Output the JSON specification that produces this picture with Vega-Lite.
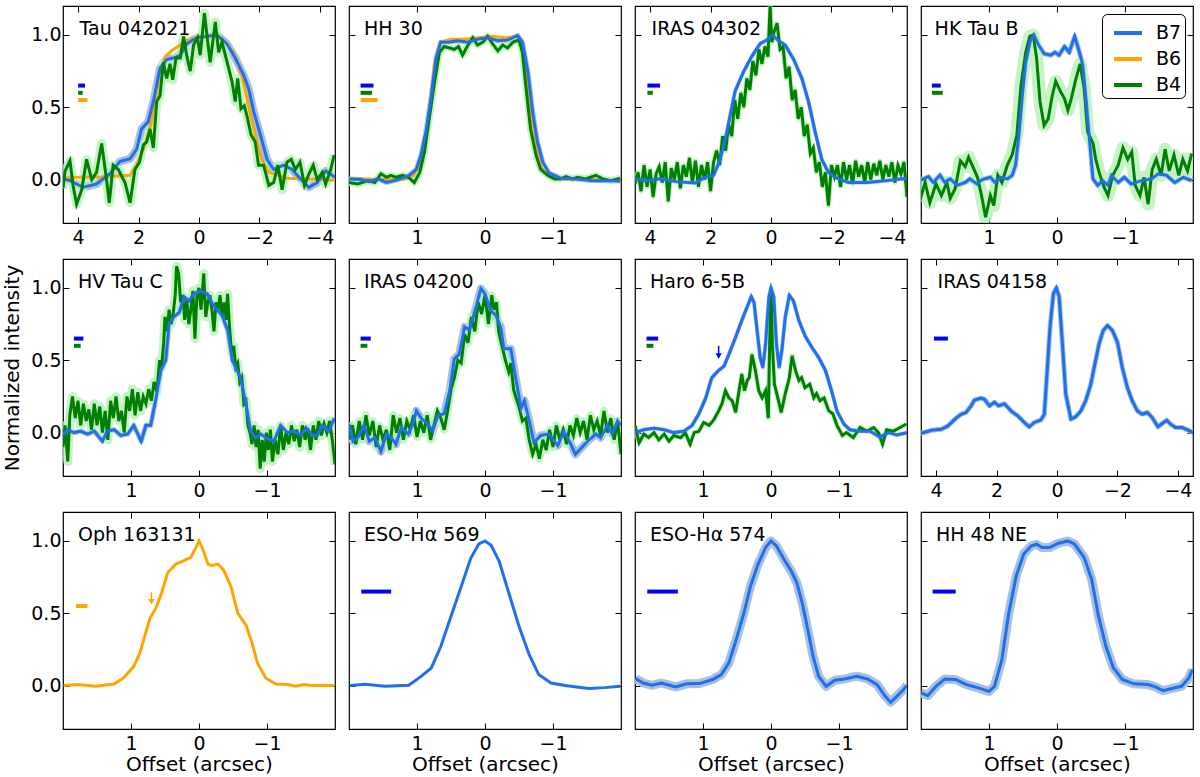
{
"$schema":"https://vega.github.io/schema/vega-lite/v6.json",
"background":"white",
"padding":{"left":2,"top":4,"right":4,"bottom":0},
"columns":4,
"bounds":"flush",
"spacing":{"row":36,"column":14},
"datasets":{
"t":[{"p":1,"n":"Tau 042021"},{"p":2,"n":"HH 30"},{"p":3,"n":"IRAS 04302"},{"p":4,"n":"HK Tau B"},{"p":5,"n":"HV Tau C"},{"p":6,"n":"IRAS 04200"},{"p":7,"n":"Haro 6-5B"},{"p":8,"n":"IRAS 04158"},{"p":9,"n":"Oph 163131"},{"p":10,"n":"ESO-Hα 569"},{"p":11,"n":"ESO-Hα 574"},{"p":12,"n":"HH 48 NE"}],
"a":[{"p":7,"b":"b7","x":0.77,"y":0.6,"y2":0.53},{"p":9,"b":"b6","x":0.7,"y":0.645,"y2":0.58}],
"m":[
{"p":1,"b":"b7","x1":4.0,"x2":3.77,"y":0.65},{"p":1,"b":"b4","x1":4.0,"x2":3.85,"y":0.6},{"p":1,"b":"b6","x1":4.0,"x2":3.69,"y":0.55},
{"p":2,"b":"b7","x1":1.83,"x2":1.64,"y":0.65},{"p":2,"b":"b4","x1":1.83,"x2":1.66,"y":0.6},{"p":2,"b":"b6","x1":1.83,"x2":1.58,"y":0.55},
{"p":3,"b":"b7","x1":4.09,"x2":3.67,"y":0.65},{"p":3,"b":"b4","x1":4.09,"x2":3.91,"y":0.6},
{"p":4,"b":"b7","x1":1.84,"x2":1.71,"y":0.65},{"p":4,"b":"b4","x1":1.84,"x2":1.68,"y":0.6},
{"p":5,"b":"b7","x1":1.84,"x2":1.7,"y":0.65},{"p":5,"b":"b4","x1":1.84,"x2":1.74,"y":0.6},
{"p":6,"b":"b7","x1":1.83,"x2":1.68,"y":0.65},{"p":6,"b":"b4","x1":1.83,"x2":1.73,"y":0.6},
{"p":7,"b":"b7","x1":1.83,"x2":1.66,"y":0.65},{"p":7,"b":"b4","x1":1.83,"x2":1.73,"y":0.6},
{"p":8,"b":"b7","x1":4.07,"x2":3.61,"y":0.65},
{"p":9,"b":"b6","x1":1.81,"x2":1.64,"y":0.55},
{"p":10,"b":"b7","x1":1.82,"x2":1.38,"y":0.65},
{"p":11,"b":"b7","x1":1.82,"x2":1.37,"y":0.65},
{"p":12,"b":"b7","x1":1.83,"x2":1.49,"y":0.65}
],
"c":[
{"p":1,"b":"B6","x":4.5,"y":0.01},{"p":1,"b":"B6","x":4.0,"y":0.016},{"p":1,"b":"B6","x":3.17,"y":0.02},{"p":1,"b":"B6","x":2.28,"y":0.03},{"p":1,"b":"B6","x":2.06,"y":0.1},{"p":1,"b":"B6","x":1.79,"y":0.24},{"p":1,"b":"B6","x":1.57,"y":0.4},{"p":1,"b":"B6","x":1.34,"y":0.68},{"p":1,"b":"B6","x":1.12,"y":0.85},{"p":1,"b":"B6","x":0.85,"y":0.9},{"p":1,"b":"B6","x":0.4,"y":0.96},{"p":1,"b":"B6","x":0,"y":0.99},{"p":1,"b":"B6","x":-0.48,"y":1.0},{"p":1,"b":"B6","x":-0.81,"y":0.965},{"p":1,"b":"B6","x":-1.14,"y":0.88},{"p":1,"b":"B6","x":-1.42,"y":0.72},{"p":1,"b":"B6","x":-1.64,"y":0.51},{"p":1,"b":"B6","x":-1.86,"y":0.31},{"p":1,"b":"B6","x":-2.08,"y":0.14},{"p":1,"b":"B6","x":-2.31,"y":0.05},{"p":1,"b":"B6","x":-2.91,"y":0.01},{"p":1,"b":"B6","x":-3.58,"y":0.005},{"p":1,"b":"B6","x":-4.5,"y":-0.007},
{"p":1,"b":"B7","x":4.5,"y":0.005},{"p":1,"b":"B7","x":4.27,"y":-0.007},{"p":1,"b":"B7","x":3.83,"y":-0.053},{"p":1,"b":"B7","x":3.39,"y":-0.03},{"p":1,"b":"B7","x":2.95,"y":0.04},{"p":1,"b":"B7","x":2.62,"y":0.125},{"p":1,"b":"B7","x":2.28,"y":0.144},{"p":1,"b":"B7","x":2.06,"y":0.21},{"p":1,"b":"B7","x":1.9,"y":0.35},{"p":1,"b":"B7","x":1.68,"y":0.4},{"p":1,"b":"B7","x":1.51,"y":0.54},{"p":1,"b":"B7","x":1.29,"y":0.77},{"p":1,"b":"B7","x":1.07,"y":0.83},{"p":1,"b":"B7","x":0.85,"y":0.84},{"p":1,"b":"B7","x":0.62,"y":0.86},{"p":1,"b":"B7","x":0.4,"y":0.94},{"p":1,"b":"B7","x":0.07,"y":0.98},{"p":1,"b":"B7","x":-0.26,"y":0.99},{"p":1,"b":"B7","x":-0.59,"y":1.0},{"p":1,"b":"B7","x":-0.92,"y":0.94},{"p":1,"b":"B7","x":-1.2,"y":0.84},{"p":1,"b":"B7","x":-1.48,"y":0.72},{"p":1,"b":"B7","x":-1.64,"y":0.63},{"p":1,"b":"B7","x":-1.81,"y":0.47},{"p":1,"b":"B7","x":-2.03,"y":0.31},{"p":1,"b":"B7","x":-2.25,"y":0.14},{"p":1,"b":"B7","x":-2.47,"y":0.07},{"p":1,"b":"B7","x":-2.8,"y":0.1},{"p":1,"b":"B7","x":-3.08,"y":0.07},{"p":1,"b":"B7","x":-3.36,"y":0.005},{"p":1,"b":"B7","x":-3.63,"y":-0.053},{"p":1,"b":"B7","x":-3.91,"y":-0.02},{"p":1,"b":"B7","x":-4.19,"y":0.06},{"p":1,"b":"B7","x":-4.5,"y":0.016},
{"p":1,"b":"B4","x":4.5,"y":-0.06},{"p":1,"b":"B4","x":4.43,"y":0.06},{"p":1,"b":"B4","x":4.27,"y":0.13},{"p":1,"b":"B4","x":4.16,"y":-0.05},{"p":1,"b":"B4","x":4.05,"y":-0.17},{"p":1,"b":"B4","x":3.88,"y":-0.07},{"p":1,"b":"B4","x":3.72,"y":0.14},{"p":1,"b":"B4","x":3.55,"y":0.0},{"p":1,"b":"B4","x":3.39,"y":0.05},{"p":1,"b":"B4","x":3.22,"y":0.25},{"p":1,"b":"B4","x":3.06,"y":0.0},{"p":1,"b":"B4","x":2.97,"y":-0.16},{"p":1,"b":"B4","x":2.84,"y":0.1},{"p":1,"b":"B4","x":2.67,"y":0.07},{"p":1,"b":"B4","x":2.45,"y":-0.02},{"p":1,"b":"B4","x":2.28,"y":-0.16},{"p":1,"b":"B4","x":2.12,"y":0.07},{"p":1,"b":"B4","x":1.97,"y":0.12},{"p":1,"b":"B4","x":1.84,"y":0.24},{"p":1,"b":"B4","x":1.73,"y":0.26},{"p":1,"b":"B4","x":1.62,"y":0.35},{"p":1,"b":"B4","x":1.51,"y":0.22},{"p":1,"b":"B4","x":1.4,"y":0.54},{"p":1,"b":"B4","x":1.29,"y":0.58},{"p":1,"b":"B4","x":1.18,"y":0.81},{"p":1,"b":"B4","x":1.07,"y":0.7},{"p":1,"b":"B4","x":0.96,"y":0.8},{"p":1,"b":"B4","x":0.87,"y":0.69},{"p":1,"b":"B4","x":0.76,"y":0.84},{"p":1,"b":"B4","x":0.62,"y":0.84},{"p":1,"b":"B4","x":0.51,"y":0.99},{"p":1,"b":"B4","x":0.4,"y":0.85},{"p":1,"b":"B4","x":0.29,"y":0.75},{"p":1,"b":"B4","x":0.18,"y":0.93},{"p":1,"b":"B4","x":0.05,"y":0.98},{"p":1,"b":"B4","x":-0.04,"y":0.86},{"p":1,"b":"B4","x":-0.18,"y":1.15},{"p":1,"b":"B4","x":-0.29,"y":0.95},{"p":1,"b":"B4","x":-0.37,"y":0.81},{"p":1,"b":"B4","x":-0.54,"y":1.09},{"p":1,"b":"B4","x":-0.65,"y":0.88},{"p":1,"b":"B4","x":-0.76,"y":0.95},{"p":1,"b":"B4","x":-0.87,"y":0.86},{"p":1,"b":"B4","x":-0.98,"y":0.77},{"p":1,"b":"B4","x":-1.09,"y":0.68},{"p":1,"b":"B4","x":-1.2,"y":0.54},{"p":1,"b":"B4","x":-1.28,"y":0.7},{"p":1,"b":"B4","x":-1.39,"y":0.49},{"p":1,"b":"B4","x":-1.5,"y":0.51},{"p":1,"b":"B4","x":-1.61,"y":0.42},{"p":1,"b":"B4","x":-1.72,"y":0.31},{"p":1,"b":"B4","x":-1.86,"y":0.26},{"p":1,"b":"B4","x":-1.97,"y":0.1},{"p":1,"b":"B4","x":-2.14,"y":0.1},{"p":1,"b":"B4","x":-2.31,"y":-0.04},{"p":1,"b":"B4","x":-2.47,"y":-0.02},{"p":1,"b":"B4","x":-2.61,"y":0.1},{"p":1,"b":"B4","x":-2.75,"y":-0.07},{"p":1,"b":"B4","x":-2.91,"y":0.12},{"p":1,"b":"B4","x":-3.05,"y":0.14},{"p":1,"b":"B4","x":-3.19,"y":0.07},{"p":1,"b":"B4","x":-3.34,"y":0.12},{"p":1,"b":"B4","x":-3.49,"y":-0.04},{"p":1,"b":"B4","x":-3.64,"y":0.04},{"p":1,"b":"B4","x":-3.78,"y":0.1},{"p":1,"b":"B4","x":-3.91,"y":0.0},{"p":1,"b":"B4","x":-4.08,"y":0.05},{"p":1,"b":"B4","x":-4.19,"y":-0.03},{"p":1,"b":"B4","x":-4.36,"y":0.07},{"p":1,"b":"B4","x":-4.47,"y":0.17},
{"p":2,"b":"B6","x":2.0,"y":0.01},{"p":2,"b":"B6","x":1.6,"y":0.0},{"p":2,"b":"B6","x":1.2,"y":0.0},{"p":2,"b":"B6","x":1.05,"y":0.03},{"p":2,"b":"B6","x":0.95,"y":0.12},{"p":2,"b":"B6","x":0.87,"y":0.3},{"p":2,"b":"B6","x":0.8,"y":0.55},{"p":2,"b":"B6","x":0.74,"y":0.8},{"p":2,"b":"B6","x":0.66,"y":0.95},{"p":2,"b":"B6","x":0.5,"y":0.97},{"p":2,"b":"B6","x":0.3,"y":0.97},{"p":2,"b":"B6","x":0.1,"y":0.98},{"p":2,"b":"B6","x":-0.1,"y":0.99},{"p":2,"b":"B6","x":-0.3,"y":0.98},{"p":2,"b":"B6","x":-0.48,"y":0.99},{"p":2,"b":"B6","x":-0.55,"y":0.93},{"p":2,"b":"B6","x":-0.61,"y":0.72},{"p":2,"b":"B6","x":-0.68,"y":0.45},{"p":2,"b":"B6","x":-0.75,"y":0.22},{"p":2,"b":"B6","x":-0.83,"y":0.08},{"p":2,"b":"B6","x":-0.95,"y":0.02},{"p":2,"b":"B6","x":-1.2,"y":0.0},{"p":2,"b":"B6","x":-1.6,"y":0.0},{"p":2,"b":"B6","x":-2.0,"y":-0.01},
{"p":2,"b":"B4","x":2.0,"y":-0.02},{"p":2,"b":"B4","x":1.87,"y":-0.03},{"p":2,"b":"B4","x":1.72,"y":-0.007},{"p":2,"b":"B4","x":1.62,"y":-0.02},{"p":2,"b":"B4","x":1.53,"y":0.04},{"p":2,"b":"B4","x":1.45,"y":0.016},{"p":2,"b":"B4","x":1.38,"y":0.03},{"p":2,"b":"B4","x":1.31,"y":0.016},{"p":2,"b":"B4","x":1.21,"y":0.03},{"p":2,"b":"B4","x":1.11,"y":0.01},{"p":2,"b":"B4","x":1.04,"y":-0.02},{"p":2,"b":"B4","x":0.96,"y":0.05},{"p":2,"b":"B4","x":0.89,"y":0.19},{"p":2,"b":"B4","x":0.82,"y":0.42},{"p":2,"b":"B4","x":0.74,"y":0.68},{"p":2,"b":"B4","x":0.67,"y":0.88},{"p":2,"b":"B4","x":0.6,"y":0.92},{"p":2,"b":"B4","x":0.52,"y":0.91},{"p":2,"b":"B4","x":0.45,"y":0.9},{"p":2,"b":"B4","x":0.39,"y":0.92},{"p":2,"b":"B4","x":0.33,"y":0.86},{"p":2,"b":"B4","x":0.25,"y":0.93},{"p":2,"b":"B4","x":0.18,"y":0.98},{"p":2,"b":"B4","x":0.11,"y":0.93},{"p":2,"b":"B4","x":0.03,"y":0.95},{"p":2,"b":"B4","x":-0.04,"y":0.99},{"p":2,"b":"B4","x":-0.11,"y":0.94},{"p":2,"b":"B4","x":-0.19,"y":0.89},{"p":2,"b":"B4","x":-0.26,"y":0.93},{"p":2,"b":"B4","x":-0.33,"y":0.91},{"p":2,"b":"B4","x":-0.41,"y":0.95},{"p":2,"b":"B4","x":-0.5,"y":0.965},{"p":2,"b":"B4","x":-0.55,"y":0.88},{"p":2,"b":"B4","x":-0.6,"y":0.65},{"p":2,"b":"B4","x":-0.67,"y":0.35},{"p":2,"b":"B4","x":-0.75,"y":0.17},{"p":2,"b":"B4","x":-0.82,"y":0.07},{"p":2,"b":"B4","x":-0.92,"y":0.03},{"p":2,"b":"B4","x":-1.02,"y":0.005},{"p":2,"b":"B4","x":-1.11,"y":0.005},{"p":2,"b":"B4","x":-1.19,"y":0.02},{"p":2,"b":"B4","x":-1.29,"y":0.005},{"p":2,"b":"B4","x":-1.36,"y":0.016},{"p":2,"b":"B4","x":-1.48,"y":0.005},{"p":2,"b":"B4","x":-1.63,"y":0.03},{"p":2,"b":"B4","x":-1.73,"y":0.005},{"p":2,"b":"B4","x":-1.85,"y":-0.007},{"p":2,"b":"B4","x":-1.99,"y":0.01},
{"p":2,"b":"B7","x":2.0,"y":0.005},{"p":2,"b":"B7","x":1.82,"y":0.0},{"p":2,"b":"B7","x":1.7,"y":-0.014},{"p":2,"b":"B7","x":1.57,"y":0.005},{"p":2,"b":"B7","x":1.45,"y":-0.02},{"p":2,"b":"B7","x":1.28,"y":0.0},{"p":2,"b":"B7","x":1.11,"y":0.03},{"p":2,"b":"B7","x":1.01,"y":0.07},{"p":2,"b":"B7","x":0.94,"y":0.17},{"p":2,"b":"B7","x":0.87,"y":0.33},{"p":2,"b":"B7","x":0.79,"y":0.58},{"p":2,"b":"B7","x":0.72,"y":0.84},{"p":2,"b":"B7","x":0.65,"y":0.95},{"p":2,"b":"B7","x":0.55,"y":0.95},{"p":2,"b":"B7","x":0.4,"y":0.96},{"p":2,"b":"B7","x":0.25,"y":0.95},{"p":2,"b":"B7","x":0.11,"y":0.97},{"p":2,"b":"B7","x":-0.04,"y":0.98},{"p":2,"b":"B7","x":-0.19,"y":0.96},{"p":2,"b":"B7","x":-0.33,"y":0.965},{"p":2,"b":"B7","x":-0.48,"y":0.995},{"p":2,"b":"B7","x":-0.55,"y":0.95},{"p":2,"b":"B7","x":-0.63,"y":0.745},{"p":2,"b":"B7","x":-0.7,"y":0.47},{"p":2,"b":"B7","x":-0.77,"y":0.26},{"p":2,"b":"B7","x":-0.85,"y":0.12},{"p":2,"b":"B7","x":-0.94,"y":0.046},{"p":2,"b":"B7","x":-1.11,"y":0.01},{"p":2,"b":"B7","x":-1.31,"y":0.005},{"p":2,"b":"B7","x":-1.55,"y":-0.007},{"p":2,"b":"B7","x":-1.99,"y":-0.01},
{"p":3,"b":"B4","x":4.5,"y":-0.03},{"p":3,"b":"B4","x":4.4,"y":0.05},{"p":3,"b":"B4","x":4.3,"y":-0.08},{"p":3,"b":"B4","x":4.2,"y":0.1},{"p":3,"b":"B4","x":4.1,"y":-0.05},{"p":3,"b":"B4","x":4.0,"y":0.07},{"p":3,"b":"B4","x":3.9,"y":-0.12},{"p":3,"b":"B4","x":3.8,"y":0.04},{"p":3,"b":"B4","x":3.7,"y":0.09},{"p":3,"b":"B4","x":3.6,"y":-0.02},{"p":3,"b":"B4","x":3.5,"y":0.12},{"p":3,"b":"B4","x":3.4,"y":-0.15},{"p":3,"b":"B4","x":3.3,"y":0.08},{"p":3,"b":"B4","x":3.2,"y":0.0},{"p":3,"b":"B4","x":3.1,"y":0.12},{"p":3,"b":"B4","x":3.0,"y":-0.06},{"p":3,"b":"B4","x":2.9,"y":0.1},{"p":3,"b":"B4","x":2.8,"y":0.02},{"p":3,"b":"B4","x":2.7,"y":0.15},{"p":3,"b":"B4","x":2.6,"y":-0.02},{"p":3,"b":"B4","x":2.5,"y":0.13},{"p":3,"b":"B4","x":2.4,"y":-0.05},{"p":3,"b":"B4","x":2.3,"y":0.1},{"p":3,"b":"B4","x":2.2,"y":0.0},{"p":3,"b":"B4","x":2.1,"y":0.12},{"p":3,"b":"B4","x":2.0,"y":-0.08},{"p":3,"b":"B4","x":1.9,"y":0.12},{"p":3,"b":"B4","x":1.8,"y":0.2},{"p":3,"b":"B4","x":1.7,"y":0.1},{"p":3,"b":"B4","x":1.6,"y":0.3},{"p":3,"b":"B4","x":1.5,"y":0.2},{"p":3,"b":"B4","x":1.4,"y":0.38},{"p":3,"b":"B4","x":1.3,"y":0.3},{"p":3,"b":"B4","x":1.2,"y":0.55},{"p":3,"b":"B4","x":1.1,"y":0.42},{"p":3,"b":"B4","x":1.0,"y":0.6},{"p":3,"b":"B4","x":0.9,"y":0.5},{"p":3,"b":"B4","x":0.8,"y":0.7},{"p":3,"b":"B4","x":0.7,"y":0.62},{"p":3,"b":"B4","x":0.6,"y":0.82},{"p":3,"b":"B4","x":0.5,"y":0.72},{"p":3,"b":"B4","x":0.4,"y":0.9},{"p":3,"b":"B4","x":0.3,"y":0.8},{"p":3,"b":"B4","x":0.2,"y":0.92},{"p":3,"b":"B4","x":0.1,"y":0.85},{"p":3,"b":"B4","x":0.03,"y":1.2},{"p":3,"b":"B4","x":-0.03,"y":0.95},{"p":3,"b":"B4","x":-0.1,"y":1.02},{"p":3,"b":"B4","x":-0.2,"y":1.08},{"p":3,"b":"B4","x":-0.3,"y":0.9},{"p":3,"b":"B4","x":-0.4,"y":0.92},{"p":3,"b":"B4","x":-0.5,"y":0.7},{"p":3,"b":"B4","x":-0.6,"y":0.78},{"p":3,"b":"B4","x":-0.7,"y":0.55},{"p":3,"b":"B4","x":-0.8,"y":0.62},{"p":3,"b":"B4","x":-0.9,"y":0.42},{"p":3,"b":"B4","x":-1.0,"y":0.5},{"p":3,"b":"B4","x":-1.1,"y":0.3},{"p":3,"b":"B4","x":-1.2,"y":0.38},{"p":3,"b":"B4","x":-1.3,"y":0.18},{"p":3,"b":"B4","x":-1.4,"y":0.22},{"p":3,"b":"B4","x":-1.5,"y":0.05},{"p":3,"b":"B4","x":-1.6,"y":0.12},{"p":3,"b":"B4","x":-1.7,"y":-0.05},{"p":3,"b":"B4","x":-1.8,"y":0.05},{"p":3,"b":"B4","x":-1.9,"y":-0.18},{"p":3,"b":"B4","x":-2.0,"y":0.1},{"p":3,"b":"B4","x":-2.1,"y":0.02},{"p":3,"b":"B4","x":-2.2,"y":0.1},{"p":3,"b":"B4","x":-2.3,"y":-0.05},{"p":3,"b":"B4","x":-2.4,"y":0.12},{"p":3,"b":"B4","x":-2.5,"y":0.0},{"p":3,"b":"B4","x":-2.6,"y":0.1},{"p":3,"b":"B4","x":-2.7,"y":-0.03},{"p":3,"b":"B4","x":-2.8,"y":0.13},{"p":3,"b":"B4","x":-2.9,"y":0.02},{"p":3,"b":"B4","x":-3.0,"y":0.1},{"p":3,"b":"B4","x":-3.1,"y":-0.02},{"p":3,"b":"B4","x":-3.2,"y":0.12},{"p":3,"b":"B4","x":-3.3,"y":0.0},{"p":3,"b":"B4","x":-3.4,"y":0.11},{"p":3,"b":"B4","x":-3.5,"y":0.03},{"p":3,"b":"B4","x":-3.6,"y":0.13},{"p":3,"b":"B4","x":-3.7,"y":0.0},{"p":3,"b":"B4","x":-3.8,"y":0.1},{"p":3,"b":"B4","x":-3.9,"y":0.02},{"p":3,"b":"B4","x":-4.0,"y":0.12},{"p":3,"b":"B4","x":-4.1,"y":-0.02},{"p":3,"b":"B4","x":-4.2,"y":0.1},{"p":3,"b":"B4","x":-4.3,"y":0.04},{"p":3,"b":"B4","x":-4.4,"y":0.12},{"p":3,"b":"B4","x":-4.5,"y":-0.12},
{"p":3,"b":"B7","x":4.53,"y":0.005},{"p":3,"b":"B7","x":4.11,"y":-0.007},{"p":3,"b":"B7","x":3.67,"y":0.005},{"p":3,"b":"B7","x":3.12,"y":-0.014},{"p":3,"b":"B7","x":2.51,"y":-0.023},{"p":3,"b":"B7","x":2.24,"y":0.01},{"p":3,"b":"B7","x":1.9,"y":0.03},{"p":3,"b":"B7","x":1.68,"y":0.14},{"p":3,"b":"B7","x":1.46,"y":0.33},{"p":3,"b":"B7","x":1.19,"y":0.61},{"p":3,"b":"B7","x":0.91,"y":0.745},{"p":3,"b":"B7","x":0.64,"y":0.85},{"p":3,"b":"B7","x":0.36,"y":0.94},{"p":3,"b":"B7","x":0.14,"y":0.965},{"p":3,"b":"B7","x":-0.05,"y":1.0},{"p":3,"b":"B7","x":-0.25,"y":0.96},{"p":3,"b":"B7","x":-0.47,"y":0.93},{"p":3,"b":"B7","x":-0.75,"y":0.83},{"p":3,"b":"B7","x":-1.02,"y":0.7},{"p":3,"b":"B7","x":-1.24,"y":0.54},{"p":3,"b":"B7","x":-1.46,"y":0.33},{"p":3,"b":"B7","x":-1.68,"y":0.14},{"p":3,"b":"B7","x":-1.9,"y":0.05},{"p":3,"b":"B7","x":-2.18,"y":0.01},{"p":3,"b":"B7","x":-2.57,"y":-0.02},{"p":3,"b":"B7","x":-3.17,"y":-0.02},{"p":3,"b":"B7","x":-3.84,"y":-0.007},{"p":3,"b":"B7","x":-4.5,"y":0.01},
{"p":4,"b":"B4","x":2.02,"y":-0.15},{"p":4,"b":"B4","x":1.94,"y":-0.02},{"p":4,"b":"B4","x":1.87,"y":-0.16},{"p":4,"b":"B4","x":1.78,"y":-0.03},{"p":4,"b":"B4","x":1.7,"y":-0.11},{"p":4,"b":"B4","x":1.62,"y":-0.02},{"p":4,"b":"B4","x":1.57,"y":-0.13},{"p":4,"b":"B4","x":1.5,"y":-0.065},{"p":4,"b":"B4","x":1.42,"y":0.13},{"p":4,"b":"B4","x":1.35,"y":0.09},{"p":4,"b":"B4","x":1.3,"y":0.155},{"p":4,"b":"B4","x":1.22,"y":0.07},{"p":4,"b":"B4","x":1.17,"y":0.016},{"p":4,"b":"B4","x":1.11,"y":-0.11},{"p":4,"b":"B4","x":1.05,"y":-0.26},{"p":4,"b":"B4","x":0.98,"y":-0.11},{"p":4,"b":"B4","x":0.93,"y":-0.18},{"p":4,"b":"B4","x":0.87,"y":0.03},{"p":4,"b":"B4","x":0.81,"y":-0.02},{"p":4,"b":"B4","x":0.73,"y":0.1},{"p":4,"b":"B4","x":0.66,"y":0.17},{"p":4,"b":"B4","x":0.59,"y":0.31},{"p":4,"b":"B4","x":0.53,"y":0.65},{"p":4,"b":"B4","x":0.46,"y":0.88},{"p":4,"b":"B4","x":0.4,"y":0.99},{"p":4,"b":"B4","x":0.35,"y":1.0},{"p":4,"b":"B4","x":0.3,"y":0.84},{"p":4,"b":"B4","x":0.25,"y":0.54},{"p":4,"b":"B4","x":0.19,"y":0.375},{"p":4,"b":"B4","x":0.13,"y":0.42},{"p":4,"b":"B4","x":0.07,"y":0.58},{"p":4,"b":"B4","x":0.02,"y":0.68},{"p":4,"b":"B4","x":-0.05,"y":0.61},{"p":4,"b":"B4","x":-0.11,"y":0.56},{"p":4,"b":"B4","x":-0.16,"y":0.48},{"p":4,"b":"B4","x":-0.21,"y":0.56},{"p":4,"b":"B4","x":-0.28,"y":0.7},{"p":4,"b":"B4","x":-0.34,"y":0.8},{"p":4,"b":"B4","x":-0.4,"y":0.63},{"p":4,"b":"B4","x":-0.45,"y":0.33},{"p":4,"b":"B4","x":-0.53,"y":0.25},{"p":4,"b":"B4","x":-0.57,"y":0.14},{"p":4,"b":"B4","x":-0.62,"y":0.05},{"p":4,"b":"B4","x":-0.69,"y":-0.05},{"p":4,"b":"B4","x":-0.75,"y":-0.11},{"p":4,"b":"B4","x":-0.82,"y":0.03},{"p":4,"b":"B4","x":-0.9,"y":0.1},{"p":4,"b":"B4","x":-0.97,"y":0.22},{"p":4,"b":"B4","x":-1.04,"y":0.14},{"p":4,"b":"B4","x":-1.1,"y":0.19},{"p":4,"b":"B4","x":-1.15,"y":-0.04},{"p":4,"b":"B4","x":-1.22,"y":-0.11},{"p":4,"b":"B4","x":-1.28,"y":0.016},{"p":4,"b":"B4","x":-1.34,"y":-0.17},{"p":4,"b":"B4","x":-1.4,"y":0.07},{"p":4,"b":"B4","x":-1.46,"y":0.14},{"p":4,"b":"B4","x":-1.53,"y":0.03},{"p":4,"b":"B4","x":-1.59,"y":0.21},{"p":4,"b":"B4","x":-1.65,"y":0.06},{"p":4,"b":"B4","x":-1.72,"y":0.17},{"p":4,"b":"B4","x":-1.79,"y":0.03},{"p":4,"b":"B4","x":-1.85,"y":0.14},{"p":4,"b":"B4","x":-1.92,"y":0.06},{"p":4,"b":"B4","x":-1.98,"y":0.18},
{"p":4,"b":"B7","x":2.02,"y":-0.007},{"p":4,"b":"B7","x":1.89,"y":0.02},{"p":4,"b":"B7","x":1.82,"y":-0.02},{"p":4,"b":"B7","x":1.72,"y":0.03},{"p":4,"b":"B7","x":1.65,"y":-0.02},{"p":4,"b":"B7","x":1.57,"y":0.005},{"p":4,"b":"B7","x":1.47,"y":-0.04},{"p":4,"b":"B7","x":1.35,"y":-0.02},{"p":4,"b":"B7","x":1.28,"y":0.005},{"p":4,"b":"B7","x":1.18,"y":-0.03},{"p":4,"b":"B7","x":1.1,"y":0.0},{"p":4,"b":"B7","x":0.98,"y":0.016},{"p":4,"b":"B7","x":0.91,"y":-0.02},{"p":4,"b":"B7","x":0.83,"y":0.016},{"p":4,"b":"B7","x":0.73,"y":0.005},{"p":4,"b":"B7","x":0.66,"y":0.03},{"p":4,"b":"B7","x":0.61,"y":0.1},{"p":4,"b":"B7","x":0.56,"y":0.31},{"p":4,"b":"B7","x":0.51,"y":0.58},{"p":4,"b":"B7","x":0.46,"y":0.81},{"p":4,"b":"B7","x":0.39,"y":0.965},{"p":4,"b":"B7","x":0.34,"y":1.0},{"p":4,"b":"B7","x":0.27,"y":0.93},{"p":4,"b":"B7","x":0.19,"y":0.87},{"p":4,"b":"B7","x":0.09,"y":0.86},{"p":4,"b":"B7","x":0.03,"y":0.88},{"p":4,"b":"B7","x":-0.03,"y":0.86},{"p":4,"b":"B7","x":-0.11,"y":0.92},{"p":4,"b":"B7","x":-0.18,"y":0.88},{"p":4,"b":"B7","x":-0.26,"y":0.99},{"p":4,"b":"B7","x":-0.33,"y":0.88},{"p":4,"b":"B7","x":-0.38,"y":0.79},{"p":4,"b":"B7","x":-0.43,"y":0.54},{"p":4,"b":"B7","x":-0.48,"y":0.26},{"p":4,"b":"B7","x":-0.53,"y":0.005},{"p":4,"b":"B7","x":-0.6,"y":-0.04},{"p":4,"b":"B7","x":-0.67,"y":-0.007},{"p":4,"b":"B7","x":-0.75,"y":-0.04},{"p":4,"b":"B7","x":-0.8,"y":0.03},{"p":4,"b":"B7","x":-0.9,"y":-0.02},{"p":4,"b":"B7","x":-0.99,"y":0.016},{"p":4,"b":"B7","x":-1.09,"y":-0.03},{"p":4,"b":"B7","x":-1.24,"y":-0.007},{"p":4,"b":"B7","x":-1.39,"y":0.005},{"p":4,"b":"B7","x":-1.49,"y":0.04},{"p":4,"b":"B7","x":-1.61,"y":0.03},{"p":4,"b":"B7","x":-1.73,"y":-0.02},{"p":4,"b":"B7","x":-1.86,"y":0.016},{"p":4,"b":"B7","x":-1.98,"y":-0.007},
{"p":5,"b":"B4","x":2.0,"y":-0.1},{"p":5,"b":"B4","x":1.97,"y":0.05},{"p":5,"b":"B4","x":1.93,"y":-0.2},{"p":5,"b":"B4","x":1.9,"y":0.12},{"p":5,"b":"B4","x":1.86,"y":0.25},{"p":5,"b":"B4","x":1.82,"y":0.1},{"p":5,"b":"B4","x":1.78,"y":0.22},{"p":5,"b":"B4","x":1.74,"y":0.05},{"p":5,"b":"B4","x":1.7,"y":0.2},{"p":5,"b":"B4","x":1.66,"y":0.08},{"p":5,"b":"B4","x":1.62,"y":0.16},{"p":5,"b":"B4","x":1.58,"y":0.02},{"p":5,"b":"B4","x":1.54,"y":0.2},{"p":5,"b":"B4","x":1.5,"y":0.05},{"p":5,"b":"B4","x":1.46,"y":0.18},{"p":5,"b":"B4","x":1.42,"y":0.0},{"p":5,"b":"B4","x":1.38,"y":0.15},{"p":5,"b":"B4","x":1.34,"y":-0.05},{"p":5,"b":"B4","x":1.3,"y":0.22},{"p":5,"b":"B4","x":1.26,"y":0.1},{"p":5,"b":"B4","x":1.22,"y":0.25},{"p":5,"b":"B4","x":1.18,"y":0.08},{"p":5,"b":"B4","x":1.14,"y":0.15},{"p":5,"b":"B4","x":1.1,"y":0.0},{"p":5,"b":"B4","x":1.06,"y":0.25},{"p":5,"b":"B4","x":1.02,"y":0.15},{"p":5,"b":"B4","x":0.98,"y":0.3},{"p":5,"b":"B4","x":0.94,"y":0.12},{"p":5,"b":"B4","x":0.9,"y":0.28},{"p":5,"b":"B4","x":0.86,"y":0.15},{"p":5,"b":"B4","x":0.82,"y":0.25},{"p":5,"b":"B4","x":0.78,"y":0.2},{"p":5,"b":"B4","x":0.74,"y":0.3},{"p":5,"b":"B4","x":0.7,"y":0.22},{"p":5,"b":"B4","x":0.66,"y":0.35},{"p":5,"b":"B4","x":0.62,"y":0.28},{"p":5,"b":"B4","x":0.58,"y":0.5},{"p":5,"b":"B4","x":0.55,"y":0.45},{"p":5,"b":"B4","x":0.52,"y":0.62},{"p":5,"b":"B4","x":0.5,"y":0.8},{"p":5,"b":"B4","x":0.47,"y":0.7},{"p":5,"b":"B4","x":0.44,"y":0.85},{"p":5,"b":"B4","x":0.41,"y":0.75},{"p":5,"b":"B4","x":0.38,"y":0.82},{"p":5,"b":"B4","x":0.35,"y":0.95},{"p":5,"b":"B4","x":0.33,"y":1.15},{"p":5,"b":"B4","x":0.3,"y":1.1},{"p":5,"b":"B4","x":0.27,"y":0.9},{"p":5,"b":"B4","x":0.24,"y":0.95},{"p":5,"b":"B4","x":0.21,"y":0.78},{"p":5,"b":"B4","x":0.18,"y":0.92},{"p":5,"b":"B4","x":0.15,"y":0.75},{"p":5,"b":"B4","x":0.12,"y":0.85},{"p":5,"b":"B4","x":0.09,"y":0.98},{"p":5,"b":"B4","x":0.06,"y":0.65},{"p":5,"b":"B4","x":0.03,"y":0.95},{"p":5,"b":"B4","x":0.0,"y":1.0},{"p":5,"b":"B4","x":-0.03,"y":0.85},{"p":5,"b":"B4","x":-0.07,"y":1.1},{"p":5,"b":"B4","x":-0.1,"y":0.8},{"p":5,"b":"B4","x":-0.13,"y":0.9},{"p":5,"b":"B4","x":-0.16,"y":0.95},{"p":5,"b":"B4","x":-0.19,"y":0.85},{"p":5,"b":"B4","x":-0.22,"y":0.7},{"p":5,"b":"B4","x":-0.25,"y":0.9},{"p":5,"b":"B4","x":-0.28,"y":0.85},{"p":5,"b":"B4","x":-0.31,"y":0.95},{"p":5,"b":"B4","x":-0.34,"y":0.8},{"p":5,"b":"B4","x":-0.37,"y":0.9},{"p":5,"b":"B4","x":-0.4,"y":0.78},{"p":5,"b":"B4","x":-0.42,"y":0.96},{"p":5,"b":"B4","x":-0.45,"y":0.72},{"p":5,"b":"B4","x":-0.48,"y":0.55},{"p":5,"b":"B4","x":-0.51,"y":0.6},{"p":5,"b":"B4","x":-0.54,"y":0.45},{"p":5,"b":"B4","x":-0.57,"y":0.48},{"p":5,"b":"B4","x":-0.6,"y":0.35},{"p":5,"b":"B4","x":-0.63,"y":0.38},{"p":5,"b":"B4","x":-0.66,"y":0.2},{"p":5,"b":"B4","x":-0.69,"y":0.22},{"p":5,"b":"B4","x":-0.72,"y":0.05},{"p":5,"b":"B4","x":-0.75,"y":0.0},{"p":5,"b":"B4","x":-0.78,"y":-0.08},{"p":5,"b":"B4","x":-0.81,"y":0.05},{"p":5,"b":"B4","x":-0.84,"y":-0.1},{"p":5,"b":"B4","x":-0.87,"y":0.02},{"p":5,"b":"B4","x":-0.9,"y":-0.25},{"p":5,"b":"B4","x":-0.93,"y":-0.05},{"p":5,"b":"B4","x":-0.96,"y":-0.2},{"p":5,"b":"B4","x":-0.99,"y":0.0},{"p":5,"b":"B4","x":-1.02,"y":-0.12},{"p":5,"b":"B4","x":-1.05,"y":0.02},{"p":5,"b":"B4","x":-1.08,"y":-0.2},{"p":5,"b":"B4","x":-1.12,"y":-0.05},{"p":5,"b":"B4","x":-1.16,"y":-0.15},{"p":5,"b":"B4","x":-1.2,"y":0.05},{"p":5,"b":"B4","x":-1.24,"y":-0.12},{"p":5,"b":"B4","x":-1.28,"y":0.0},{"p":5,"b":"B4","x":-1.32,"y":-0.08},{"p":5,"b":"B4","x":-1.36,"y":0.05},{"p":5,"b":"B4","x":-1.4,"y":-0.06},{"p":5,"b":"B4","x":-1.44,"y":0.02},{"p":5,"b":"B4","x":-1.48,"y":-0.1},{"p":5,"b":"B4","x":-1.52,"y":0.05},{"p":5,"b":"B4","x":-1.56,"y":-0.05},{"p":5,"b":"B4","x":-1.6,"y":0.03},{"p":5,"b":"B4","x":-1.64,"y":-0.12},{"p":5,"b":"B4","x":-1.68,"y":0.05},{"p":5,"b":"B4","x":-1.72,"y":-0.05},{"p":5,"b":"B4","x":-1.76,"y":0.08},{"p":5,"b":"B4","x":-1.8,"y":-0.02},{"p":5,"b":"B4","x":-1.84,"y":0.06},{"p":5,"b":"B4","x":-1.88,"y":0.0},{"p":5,"b":"B4","x":-1.92,"y":0.08},{"p":5,"b":"B4","x":-1.96,"y":-0.05},{"p":5,"b":"B4","x":-2.0,"y":-0.22},
{"p":5,"b":"B7","x":2.0,"y":-0.02},{"p":5,"b":"B7","x":1.94,"y":0.02},{"p":5,"b":"B7","x":1.84,"y":0.0},{"p":5,"b":"B7","x":1.74,"y":0.01},{"p":5,"b":"B7","x":1.64,"y":-0.01},{"p":5,"b":"B7","x":1.54,"y":0.01},{"p":5,"b":"B7","x":1.42,"y":-0.06},{"p":5,"b":"B7","x":1.35,"y":0.01},{"p":5,"b":"B7","x":1.25,"y":0.02},{"p":5,"b":"B7","x":1.15,"y":-0.02},{"p":5,"b":"B7","x":1.05,"y":-0.01},{"p":5,"b":"B7","x":0.96,"y":0.05},{"p":5,"b":"B7","x":0.85,"y":-0.06},{"p":5,"b":"B7","x":0.78,"y":0.05},{"p":5,"b":"B7","x":0.71,"y":0.05},{"p":5,"b":"B7","x":0.64,"y":0.22},{"p":5,"b":"B7","x":0.56,"y":0.43},{"p":5,"b":"B7","x":0.49,"y":0.5},{"p":5,"b":"B7","x":0.44,"y":0.75},{"p":5,"b":"B7","x":0.37,"y":0.8},{"p":5,"b":"B7","x":0.29,"y":0.83},{"p":5,"b":"B7","x":0.22,"y":0.94},{"p":5,"b":"B7","x":0.15,"y":0.91},{"p":5,"b":"B7","x":0.07,"y":0.96},{"p":5,"b":"B7","x":-0.02,"y":0.98},{"p":5,"b":"B7","x":-0.12,"y":0.96},{"p":5,"b":"B7","x":-0.2,"y":0.89},{"p":5,"b":"B7","x":-0.27,"y":0.845},{"p":5,"b":"B7","x":-0.34,"y":0.81},{"p":5,"b":"B7","x":-0.42,"y":0.71},{"p":5,"b":"B7","x":-0.49,"y":0.5},{"p":5,"b":"B7","x":-0.56,"y":0.43},{"p":5,"b":"B7","x":-0.61,"y":0.38},{"p":5,"b":"B7","x":-0.69,"y":0.2},{"p":5,"b":"B7","x":-0.76,"y":0.01},{"p":5,"b":"B7","x":-0.83,"y":-0.035},{"p":5,"b":"B7","x":-0.91,"y":-0.01},{"p":5,"b":"B7","x":-0.98,"y":-0.035},{"p":5,"b":"B7","x":-1.1,"y":-0.06},{"p":5,"b":"B7","x":-1.2,"y":0.05},{"p":5,"b":"B7","x":-1.3,"y":0.0},{"p":5,"b":"B7","x":-1.4,"y":0.01},{"p":5,"b":"B7","x":-1.5,"y":-0.02},{"p":5,"b":"B7","x":-1.57,"y":0.035},{"p":5,"b":"B7","x":-1.67,"y":-0.02},{"p":5,"b":"B7","x":-1.74,"y":-0.02},{"p":5,"b":"B7","x":-1.81,"y":0.05},{"p":5,"b":"B7","x":-1.91,"y":0.01},{"p":5,"b":"B7","x":-1.99,"y":0.1},
{"p":6,"b":"B4","x":2.0,"y":-0.05},{"p":6,"b":"B4","x":1.95,"y":0.05},{"p":6,"b":"B4","x":1.9,"y":-0.08},{"p":6,"b":"B4","x":1.85,"y":0.08},{"p":6,"b":"B4","x":1.8,"y":-0.05},{"p":6,"b":"B4","x":1.75,"y":0.12},{"p":6,"b":"B4","x":1.7,"y":-0.02},{"p":6,"b":"B4","x":1.65,"y":0.08},{"p":6,"b":"B4","x":1.6,"y":-0.1},{"p":6,"b":"B4","x":1.55,"y":0.05},{"p":6,"b":"B4","x":1.5,"y":-0.05},{"p":6,"b":"B4","x":1.45,"y":0.02},{"p":6,"b":"B4","x":1.4,"y":-0.12},{"p":6,"b":"B4","x":1.35,"y":0.12},{"p":6,"b":"B4","x":1.3,"y":0.0},{"p":6,"b":"B4","x":1.25,"y":0.1},{"p":6,"b":"B4","x":1.2,"y":-0.05},{"p":6,"b":"B4","x":1.15,"y":0.08},{"p":6,"b":"B4","x":1.1,"y":0.02},{"p":6,"b":"B4","x":1.05,"y":0.12},{"p":6,"b":"B4","x":1.0,"y":-0.03},{"p":6,"b":"B4","x":0.95,"y":0.08},{"p":6,"b":"B4","x":0.9,"y":0.0},{"p":6,"b":"B4","x":0.85,"y":0.12},{"p":6,"b":"B4","x":0.8,"y":-0.05},{"p":6,"b":"B4","x":0.75,"y":0.05},{"p":6,"b":"B4","x":0.7,"y":0.15},{"p":6,"b":"B4","x":0.65,"y":0.1},{"p":6,"b":"B4","x":0.6,"y":0.02},{"p":6,"b":"B4","x":0.55,"y":0.15},{"p":6,"b":"B4","x":0.5,"y":0.3},{"p":6,"b":"B4","x":0.45,"y":0.38},{"p":6,"b":"B4","x":0.4,"y":0.5},{"p":6,"b":"B4","x":0.35,"y":0.48},{"p":6,"b":"B4","x":0.3,"y":0.68},{"p":6,"b":"B4","x":0.25,"y":0.62},{"p":6,"b":"B4","x":0.2,"y":0.8},{"p":6,"b":"B4","x":0.15,"y":0.7},{"p":6,"b":"B4","x":0.1,"y":0.9},{"p":6,"b":"B4","x":0.05,"y":0.82},{"p":6,"b":"B4","x":0.0,"y":0.95},{"p":6,"b":"B4","x":-0.05,"y":0.75},{"p":6,"b":"B4","x":-0.1,"y":0.95},{"p":6,"b":"B4","x":-0.13,"y":0.85},{"p":6,"b":"B4","x":-0.17,"y":0.9},{"p":6,"b":"B4","x":-0.2,"y":0.7},{"p":6,"b":"B4","x":-0.25,"y":0.6},{"p":6,"b":"B4","x":-0.3,"y":0.5},{"p":6,"b":"B4","x":-0.35,"y":0.42},{"p":6,"b":"B4","x":-0.38,"y":0.48},{"p":6,"b":"B4","x":-0.42,"y":0.3},{"p":6,"b":"B4","x":-0.45,"y":0.25},{"p":6,"b":"B4","x":-0.5,"y":0.18},{"p":6,"b":"B4","x":-0.55,"y":0.08},{"p":6,"b":"B4","x":-0.6,"y":0.1},{"p":6,"b":"B4","x":-0.65,"y":-0.05},{"p":6,"b":"B4","x":-0.7,"y":-0.15},{"p":6,"b":"B4","x":-0.75,"y":-0.08},{"p":6,"b":"B4","x":-0.8,"y":-0.18},{"p":6,"b":"B4","x":-0.85,"y":-0.05},{"p":6,"b":"B4","x":-0.9,"y":-0.12},{"p":6,"b":"B4","x":-0.95,"y":0.02},{"p":6,"b":"B4","x":-1.0,"y":-0.1},{"p":6,"b":"B4","x":-1.05,"y":0.05},{"p":6,"b":"B4","x":-1.1,"y":-0.05},{"p":6,"b":"B4","x":-1.15,"y":0.02},{"p":6,"b":"B4","x":-1.2,"y":-0.08},{"p":6,"b":"B4","x":-1.25,"y":0.05},{"p":6,"b":"B4","x":-1.3,"y":-0.02},{"p":6,"b":"B4","x":-1.35,"y":0.1},{"p":6,"b":"B4","x":-1.4,"y":0.0},{"p":6,"b":"B4","x":-1.45,"y":0.08},{"p":6,"b":"B4","x":-1.5,"y":-0.05},{"p":6,"b":"B4","x":-1.55,"y":0.12},{"p":6,"b":"B4","x":-1.6,"y":0.02},{"p":6,"b":"B4","x":-1.65,"y":0.08},{"p":6,"b":"B4","x":-1.7,"y":-0.02},{"p":6,"b":"B4","x":-1.75,"y":0.15},{"p":6,"b":"B4","x":-1.8,"y":0.0},{"p":6,"b":"B4","x":-1.85,"y":0.1},{"p":6,"b":"B4","x":-1.9,"y":-0.05},{"p":6,"b":"B4","x":-1.95,"y":0.08},{"p":6,"b":"B4","x":-2.0,"y":-0.15},
{"p":6,"b":"B7","x":2.0,"y":0.06},{"p":6,"b":"B7","x":1.94,"y":-0.06},{"p":6,"b":"B7","x":1.87,"y":-0.035},{"p":6,"b":"B7","x":1.78,"y":0.05},{"p":6,"b":"B7","x":1.7,"y":-0.06},{"p":6,"b":"B7","x":1.62,"y":-0.035},{"p":6,"b":"B7","x":1.53,"y":-0.13},{"p":6,"b":"B7","x":1.45,"y":-0.01},{"p":6,"b":"B7","x":1.38,"y":-0.035},{"p":6,"b":"B7","x":1.31,"y":-0.08},{"p":6,"b":"B7","x":1.23,"y":0.035},{"p":6,"b":"B7","x":1.13,"y":-0.01},{"p":6,"b":"B7","x":1.06,"y":0.06},{"p":6,"b":"B7","x":1.01,"y":0.15},{"p":6,"b":"B7","x":0.94,"y":0.1},{"p":6,"b":"B7","x":0.84,"y":0.06},{"p":6,"b":"B7","x":0.77,"y":0.01},{"p":6,"b":"B7","x":0.69,"y":0.12},{"p":6,"b":"B7","x":0.6,"y":0.13},{"p":6,"b":"B7","x":0.52,"y":0.29},{"p":6,"b":"B7","x":0.45,"y":0.51},{"p":6,"b":"B7","x":0.38,"y":0.54},{"p":6,"b":"B7","x":0.3,"y":0.73},{"p":6,"b":"B7","x":0.23,"y":0.71},{"p":6,"b":"B7","x":0.16,"y":0.82},{"p":6,"b":"B7","x":0.06,"y":0.995},{"p":6,"b":"B7","x":0.0,"y":0.96},{"p":6,"b":"B7","x":-0.08,"y":0.845},{"p":6,"b":"B7","x":-0.16,"y":0.81},{"p":6,"b":"B7","x":-0.23,"y":0.73},{"p":6,"b":"B7","x":-0.28,"y":0.58},{"p":6,"b":"B7","x":-0.38,"y":0.58},{"p":6,"b":"B7","x":-0.45,"y":0.38},{"p":6,"b":"B7","x":-0.53,"y":0.17},{"p":6,"b":"B7","x":-0.58,"y":0.22},{"p":6,"b":"B7","x":-0.65,"y":0.08},{"p":6,"b":"B7","x":-0.72,"y":-0.07},{"p":6,"b":"B7","x":-0.82,"y":-0.02},{"p":6,"b":"B7","x":-0.94,"y":-0.01},{"p":6,"b":"B7","x":-1.07,"y":-0.09},{"p":6,"b":"B7","x":-1.16,"y":0.01},{"p":6,"b":"B7","x":-1.26,"y":-0.08},{"p":6,"b":"B7","x":-1.33,"y":-0.15},{"p":6,"b":"B7","x":-1.43,"y":-0.1},{"p":6,"b":"B7","x":-1.53,"y":-0.05},{"p":6,"b":"B7","x":-1.63,"y":-0.01},{"p":6,"b":"B7","x":-1.7,"y":-0.035},{"p":6,"b":"B7","x":-1.8,"y":0.05},{"p":6,"b":"B7","x":-1.87,"y":-0.01},{"p":6,"b":"B7","x":-1.95,"y":0.08},{"p":6,"b":"B7","x":-2.0,"y":0.05},
{"p":7,"b":"B4","x":2.0,"y":0.05},{"p":7,"b":"B4","x":1.94,"y":-0.07},{"p":7,"b":"B4","x":1.87,"y":-0.01},{"p":7,"b":"B4","x":1.8,"y":-0.035},{"p":7,"b":"B4","x":1.72,"y":0.0},{"p":7,"b":"B4","x":1.65,"y":-0.05},{"p":7,"b":"B4","x":1.57,"y":-0.01},{"p":7,"b":"B4","x":1.5,"y":-0.06},{"p":7,"b":"B4","x":1.43,"y":-0.02},{"p":7,"b":"B4","x":1.33,"y":-0.035},{"p":7,"b":"B4","x":1.26,"y":0.0},{"p":7,"b":"B4","x":1.19,"y":-0.08},{"p":7,"b":"B4","x":1.13,"y":0.0},{"p":7,"b":"B4","x":1.06,"y":0.01},{"p":7,"b":"B4","x":0.99,"y":0.07},{"p":7,"b":"B4","x":0.91,"y":0.05},{"p":7,"b":"B4","x":0.84,"y":0.09},{"p":7,"b":"B4","x":0.77,"y":0.15},{"p":7,"b":"B4","x":0.72,"y":0.2},{"p":7,"b":"B4","x":0.67,"y":0.29},{"p":7,"b":"B4","x":0.62,"y":0.24},{"p":7,"b":"B4","x":0.57,"y":0.22},{"p":7,"b":"B4","x":0.52,"y":0.14},{"p":7,"b":"B4","x":0.47,"y":0.29},{"p":7,"b":"B4","x":0.43,"y":0.405},{"p":7,"b":"B4","x":0.39,"y":0.29},{"p":7,"b":"B4","x":0.35,"y":0.36},{"p":7,"b":"B4","x":0.32,"y":0.38},{"p":7,"b":"B4","x":0.28,"y":0.54},{"p":7,"b":"B4","x":0.23,"y":0.43},{"p":7,"b":"B4","x":0.18,"y":0.29},{"p":7,"b":"B4","x":0.13,"y":0.24},{"p":7,"b":"B4","x":0.08,"y":0.29},{"p":7,"b":"B4","x":0.04,"y":0.1},{"p":7,"b":"B4","x":0.02,"y":0.61},{"p":7,"b":"B4","x":0.0,"y":1.0},{"p":7,"b":"B4","x":-0.02,"y":0.61},{"p":7,"b":"B4","x":-0.05,"y":0.335},{"p":7,"b":"B4","x":-0.1,"y":0.24},{"p":7,"b":"B4","x":-0.15,"y":0.14},{"p":7,"b":"B4","x":-0.21,"y":0.27},{"p":7,"b":"B4","x":-0.27,"y":0.38},{"p":7,"b":"B4","x":-0.31,"y":0.53},{"p":7,"b":"B4","x":-0.36,"y":0.43},{"p":7,"b":"B4","x":-0.41,"y":0.36},{"p":7,"b":"B4","x":-0.45,"y":0.38},{"p":7,"b":"B4","x":-0.5,"y":0.31},{"p":7,"b":"B4","x":-0.57,"y":0.335},{"p":7,"b":"B4","x":-0.63,"y":0.24},{"p":7,"b":"B4","x":-0.67,"y":0.27},{"p":7,"b":"B4","x":-0.72,"y":0.22},{"p":7,"b":"B4","x":-0.78,"y":0.24},{"p":7,"b":"B4","x":-0.85,"y":0.15},{"p":7,"b":"B4","x":-0.91,"y":0.13},{"p":7,"b":"B4","x":-0.97,"y":0.05},{"p":7,"b":"B4","x":-1.05,"y":-0.02},{"p":7,"b":"B4","x":-1.11,"y":0.0},{"p":7,"b":"B4","x":-1.21,"y":-0.035},{"p":7,"b":"B4","x":-1.31,"y":0.035},{"p":7,"b":"B4","x":-1.41,"y":0.01},{"p":7,"b":"B4","x":-1.51,"y":0.035},{"p":7,"b":"B4","x":-1.58,"y":0.0},{"p":7,"b":"B4","x":-1.64,"y":-0.08},{"p":7,"b":"B4","x":-1.7,"y":0.02},{"p":7,"b":"B4","x":-1.8,"y":0.01},{"p":7,"b":"B4","x":-1.9,"y":0.035},{"p":7,"b":"B4","x":-1.99,"y":0.06},
{"p":7,"b":"B7","x":2.0,"y":0.0},{"p":7,"b":"B7","x":1.87,"y":0.02},{"p":7,"b":"B7","x":1.72,"y":0.03},{"p":7,"b":"B7","x":1.57,"y":0.02},{"p":7,"b":"B7","x":1.43,"y":0.0},{"p":7,"b":"B7","x":1.28,"y":0.01},{"p":7,"b":"B7","x":1.16,"y":0.05},{"p":7,"b":"B7","x":1.06,"y":0.13},{"p":7,"b":"B7","x":0.96,"y":0.24},{"p":7,"b":"B7","x":0.87,"y":0.38},{"p":7,"b":"B7","x":0.77,"y":0.43},{"p":7,"b":"B7","x":0.69,"y":0.46},{"p":7,"b":"B7","x":0.62,"y":0.54},{"p":7,"b":"B7","x":0.52,"y":0.66},{"p":7,"b":"B7","x":0.43,"y":0.775},{"p":7,"b":"B7","x":0.35,"y":0.87},{"p":7,"b":"B7","x":0.29,"y":0.94},{"p":7,"b":"B7","x":0.25,"y":0.9},{"p":7,"b":"B7","x":0.21,"y":0.73},{"p":7,"b":"B7","x":0.16,"y":0.52},{"p":7,"b":"B7","x":0.12,"y":0.45},{"p":7,"b":"B7","x":0.08,"y":0.61},{"p":7,"b":"B7","x":0.03,"y":0.94},{"p":7,"b":"B7","x":0.0,"y":1.0},{"p":7,"b":"B7","x":-0.04,"y":0.94},{"p":7,"b":"B7","x":-0.08,"y":0.61},{"p":7,"b":"B7","x":-0.12,"y":0.45},{"p":7,"b":"B7","x":-0.16,"y":0.57},{"p":7,"b":"B7","x":-0.21,"y":0.8},{"p":7,"b":"B7","x":-0.27,"y":0.95},{"p":7,"b":"B7","x":-0.33,"y":0.91},{"p":7,"b":"B7","x":-0.41,"y":0.775},{"p":7,"b":"B7","x":-0.5,"y":0.67},{"p":7,"b":"B7","x":-0.6,"y":0.59},{"p":7,"b":"B7","x":-0.7,"y":0.52},{"p":7,"b":"B7","x":-0.8,"y":0.43},{"p":7,"b":"B7","x":-0.89,"y":0.29},{"p":7,"b":"B7","x":-0.97,"y":0.15},{"p":7,"b":"B7","x":-1.07,"y":0.06},{"p":7,"b":"B7","x":-1.16,"y":0.02},{"p":7,"b":"B7","x":-1.31,"y":0.01},{"p":7,"b":"B7","x":-1.46,"y":0.01},{"p":7,"b":"B7","x":-1.6,"y":-0.03},{"p":7,"b":"B7","x":-1.73,"y":0.0},{"p":7,"b":"B7","x":-1.85,"y":-0.016},{"p":7,"b":"B7","x":-2.0,"y":0.0},
{"p":8,"b":"B7","x":4.52,"y":-0.007},{"p":8,"b":"B7","x":4.16,"y":0.016},{"p":8,"b":"B7","x":3.83,"y":0.023},{"p":8,"b":"B7","x":3.61,"y":0.046},{"p":8,"b":"B7","x":3.34,"y":0.1},{"p":8,"b":"B7","x":3.17,"y":0.127},{"p":8,"b":"B7","x":3.01,"y":0.139},{"p":8,"b":"B7","x":2.84,"y":0.185},{"p":8,"b":"B7","x":2.73,"y":0.225},{"p":8,"b":"B7","x":2.51,"y":0.238},{"p":8,"b":"B7","x":2.4,"y":0.23},{"p":8,"b":"B7","x":2.23,"y":0.185},{"p":8,"b":"B7","x":2.07,"y":0.21},{"p":8,"b":"B7","x":1.93,"y":0.185},{"p":8,"b":"B7","x":1.74,"y":0.2},{"p":8,"b":"B7","x":1.52,"y":0.15},{"p":8,"b":"B7","x":1.3,"y":0.116},{"p":8,"b":"B7","x":1.08,"y":0.07},{"p":8,"b":"B7","x":0.92,"y":0.04},{"p":8,"b":"B7","x":0.75,"y":0.07},{"p":8,"b":"B7","x":0.53,"y":0.088},{"p":8,"b":"B7","x":0.42,"y":0.127},{"p":8,"b":"B7","x":0.34,"y":0.38},{"p":8,"b":"B7","x":0.23,"y":0.73},{"p":8,"b":"B7","x":0.12,"y":0.96},{"p":8,"b":"B7","x":0.02,"y":1.0},{"p":8,"b":"B7","x":-0.07,"y":0.94},{"p":8,"b":"B7","x":-0.18,"y":0.61},{"p":8,"b":"B7","x":-0.29,"y":0.266},{"p":8,"b":"B7","x":-0.46,"y":0.093},{"p":8,"b":"B7","x":-0.62,"y":0.11},{"p":8,"b":"B7","x":-0.79,"y":0.15},{"p":8,"b":"B7","x":-0.95,"y":0.22},{"p":8,"b":"B7","x":-1.12,"y":0.336},{"p":8,"b":"B7","x":-1.23,"y":0.45},{"p":8,"b":"B7","x":-1.39,"y":0.613},{"p":8,"b":"B7","x":-1.53,"y":0.706},{"p":8,"b":"B7","x":-1.67,"y":0.74},{"p":8,"b":"B7","x":-1.83,"y":0.706},{"p":8,"b":"B7","x":-2.0,"y":0.625},{"p":8,"b":"B7","x":-2.16,"y":0.45},{"p":8,"b":"B7","x":-2.33,"y":0.31},{"p":8,"b":"B7","x":-2.49,"y":0.22},{"p":8,"b":"B7","x":-2.66,"y":0.15},{"p":8,"b":"B7","x":-2.82,"y":0.127},{"p":8,"b":"B7","x":-2.99,"y":0.139},{"p":8,"b":"B7","x":-3.15,"y":0.104},{"p":8,"b":"B7","x":-3.34,"y":0.04},{"p":8,"b":"B7","x":-3.48,"y":0.0625},{"p":8,"b":"B7","x":-3.63,"y":0.086},{"p":8,"b":"B7","x":-3.76,"y":0.058},{"p":8,"b":"B7","x":-3.92,"y":0.035},{"p":8,"b":"B7","x":-4.14,"y":0.035},{"p":8,"b":"B7","x":-4.39,"y":0.012},{"p":8,"b":"B7","x":-4.5,"y":0.0},
{"p":9,"b":"B6","x":1.99,"y":0.0},{"p":9,"b":"B6","x":1.78,"y":0.007},{"p":9,"b":"B6","x":1.52,"y":-0.005},{"p":9,"b":"B6","x":1.25,"y":0.011},{"p":9,"b":"B6","x":1.11,"y":0.053},{"p":9,"b":"B6","x":0.96,"y":0.133},{"p":9,"b":"B6","x":0.87,"y":0.225},{"p":9,"b":"B6","x":0.8,"y":0.34},{"p":9,"b":"B6","x":0.72,"y":0.467},{"p":9,"b":"B6","x":0.635,"y":0.535},{"p":9,"b":"B6","x":0.55,"y":0.64},{"p":9,"b":"B6","x":0.46,"y":0.78},{"p":9,"b":"B6","x":0.34,"y":0.84},{"p":9,"b":"B6","x":0.22,"y":0.864},{"p":9,"b":"B6","x":0.12,"y":0.887},{"p":9,"b":"B6","x":0.06,"y":0.94},{"p":9,"b":"B6","x":0.0,"y":1.0},{"p":9,"b":"B6","x":-0.06,"y":0.94},{"p":9,"b":"B6","x":-0.13,"y":0.84},{"p":9,"b":"B6","x":-0.19,"y":0.83},{"p":9,"b":"B6","x":-0.28,"y":0.84},{"p":9,"b":"B6","x":-0.36,"y":0.8},{"p":9,"b":"B6","x":-0.47,"y":0.685},{"p":9,"b":"B6","x":-0.57,"y":0.5},{"p":9,"b":"B6","x":-0.69,"y":0.42},{"p":9,"b":"B6","x":-0.78,"y":0.294},{"p":9,"b":"B6","x":-0.86,"y":0.156},{"p":9,"b":"B6","x":-0.98,"y":0.053},{"p":9,"b":"B6","x":-1.13,"y":0.011},{"p":9,"b":"B6","x":-1.31,"y":0.007},{"p":9,"b":"B6","x":-1.42,"y":-0.005},{"p":9,"b":"B6","x":-1.54,"y":0.007},{"p":9,"b":"B6","x":-1.66,"y":0.0},{"p":9,"b":"B6","x":-1.78,"y":0.0},{"p":9,"b":"B6","x":-1.99,"y":0.0},
{"p":10,"b":"B7","x":1.99,"y":0.0},{"p":10,"b":"B7","x":1.76,"y":0.009},{"p":10,"b":"B7","x":1.47,"y":-0.005},{"p":10,"b":"B7","x":1.12,"y":0.002},{"p":10,"b":"B7","x":0.94,"y":0.064},{"p":10,"b":"B7","x":0.79,"y":0.122},{"p":10,"b":"B7","x":0.65,"y":0.27},{"p":10,"b":"B7","x":0.5,"y":0.48},{"p":10,"b":"B7","x":0.35,"y":0.685},{"p":10,"b":"B7","x":0.21,"y":0.88},{"p":10,"b":"B7","x":0.09,"y":0.98},{"p":10,"b":"B7","x":0.0,"y":1.0},{"p":10,"b":"B7","x":-0.09,"y":0.97},{"p":10,"b":"B7","x":-0.21,"y":0.857},{"p":10,"b":"B7","x":-0.35,"y":0.64},{"p":10,"b":"B7","x":-0.5,"y":0.41},{"p":10,"b":"B7","x":-0.65,"y":0.214},{"p":10,"b":"B7","x":-0.79,"y":0.076},{"p":10,"b":"B7","x":-0.97,"y":0.018},{"p":10,"b":"B7","x":-1.18,"y":0.0},{"p":10,"b":"B7","x":-1.35,"y":-0.009},{"p":10,"b":"B7","x":-1.53,"y":-0.02},{"p":10,"b":"B7","x":-1.76,"y":-0.014},{"p":10,"b":"B7","x":-1.99,"y":-0.005},
{"p":11,"b":"B7","x":1.99,"y":0.048},{"p":11,"b":"B7","x":1.88,"y":0.018},{"p":11,"b":"B7","x":1.75,"y":0.002},{"p":11,"b":"B7","x":1.61,"y":0.018},{"p":11,"b":"B7","x":1.4,"y":-0.009},{"p":11,"b":"B7","x":1.24,"y":0.012},{"p":11,"b":"B7","x":1.05,"y":0.014},{"p":11,"b":"B7","x":0.86,"y":0.042},{"p":11,"b":"B7","x":0.73,"y":0.076},{"p":11,"b":"B7","x":0.62,"y":0.157},{"p":11,"b":"B7","x":0.51,"y":0.32},{"p":11,"b":"B7","x":0.4,"y":0.5},{"p":11,"b":"B7","x":0.3,"y":0.69},{"p":11,"b":"B7","x":0.19,"y":0.84},{"p":11,"b":"B7","x":0.08,"y":0.954},{"p":11,"b":"B7","x":0.0,"y":1.0},{"p":11,"b":"B7","x":-0.08,"y":0.965},{"p":11,"b":"B7","x":-0.19,"y":0.873},{"p":11,"b":"B7","x":-0.3,"y":0.79},{"p":11,"b":"B7","x":-0.38,"y":0.71},{"p":11,"b":"B7","x":-0.46,"y":0.57},{"p":11,"b":"B7","x":-0.54,"y":0.39},{"p":11,"b":"B7","x":-0.62,"y":0.2},{"p":11,"b":"B7","x":-0.7,"y":0.065},{"p":11,"b":"B7","x":-0.81,"y":-0.005},{"p":11,"b":"B7","x":-0.94,"y":0.037},{"p":11,"b":"B7","x":-1.08,"y":0.046},{"p":11,"b":"B7","x":-1.26,"y":0.065},{"p":11,"b":"B7","x":-1.42,"y":0.046},{"p":11,"b":"B7","x":-1.56,"y":0.007},{"p":11,"b":"B7","x":-1.68,"y":-0.074},{"p":11,"b":"B7","x":-1.76,"y":-0.115},{"p":11,"b":"B7","x":-1.85,"y":-0.074},{"p":11,"b":"B7","x":-1.94,"y":-0.032},{"p":11,"b":"B7","x":-2.0,"y":0.0},
{"p":12,"b":"B7","x":2.0,"y":-0.05},{"p":12,"b":"B7","x":1.9,"y":-0.07},{"p":12,"b":"B7","x":1.78,"y":-0.005},{"p":12,"b":"B7","x":1.65,"y":0.046},{"p":12,"b":"B7","x":1.49,"y":0.042},{"p":12,"b":"B7","x":1.33,"y":0.007},{"p":12,"b":"B7","x":1.16,"y":-0.016},{"p":12,"b":"B7","x":1.0,"y":-0.04},{"p":12,"b":"B7","x":0.92,"y":-0.005},{"p":12,"b":"B7","x":0.81,"y":0.18},{"p":12,"b":"B7","x":0.71,"y":0.5},{"p":12,"b":"B7","x":0.6,"y":0.757},{"p":12,"b":"B7","x":0.49,"y":0.91},{"p":12,"b":"B7","x":0.38,"y":0.965},{"p":12,"b":"B7","x":0.3,"y":0.977},{"p":12,"b":"B7","x":0.22,"y":0.954},{"p":12,"b":"B7","x":0.11,"y":0.954},{"p":12,"b":"B7","x":-0.02,"y":0.984},{"p":12,"b":"B7","x":-0.16,"y":1.0},{"p":12,"b":"B7","x":-0.26,"y":0.977},{"p":12,"b":"B7","x":-0.4,"y":0.885},{"p":12,"b":"B7","x":-0.51,"y":0.734},{"p":12,"b":"B7","x":-0.61,"y":0.48},{"p":12,"b":"B7","x":-0.72,"y":0.27},{"p":12,"b":"B7","x":-0.83,"y":0.122},{"p":12,"b":"B7","x":-0.96,"y":0.042},{"p":12,"b":"B7","x":-1.13,"y":0.012},{"p":12,"b":"B7","x":-1.34,"y":0.007},{"p":12,"b":"B7","x":-1.45,"y":-0.009},{"p":12,"b":"B7","x":-1.56,"y":-0.035},{"p":12,"b":"B7","x":-1.69,"y":-0.02},{"p":12,"b":"B7","x":-1.83,"y":-0.005},{"p":12,"b":"B7","x":-1.94,"y":0.053},{"p":12,"b":"B7","x":-1.99,"y":0.11}
]},
"concat":[
{"width":272,"height":217,"resolve":{"axis":{"x":"independent","y":"independent"}},"layer":[
{"data":{"name":"c"},"transform":[{"filter":"datum.p==1&&datum.b=='B7'"}],"mark":{"type":"line","clip":true,"strokeJoin":"round","strokeWidth":8,"color":"#a7c1de"},"encoding":{"x":{"field":"x","type":"quantitative","scale":{"domain":[-4.5,4.5],"reverse":true,"nice":false,"zero":false},"axis":null},"y":{"field":"y","type":"quantitative","scale":{"domain":[-0.3,1.2],"nice":false,"zero":false},"axis":null}}},
{"data":{"name":"c"},"transform":[{"filter":"datum.p==1&&datum.b=='B4'"}],"mark":{"type":"line","clip":true,"strokeJoin":"round","strokeWidth":9,"color":"#b6f0b6","opacity":0.8},"encoding":{"x":{"field":"x","type":"quantitative","scale":{"domain":[-4.5,4.5],"reverse":true,"nice":false,"zero":false},"axis":null},"y":{"field":"y","type":"quantitative","scale":{"domain":[-0.3,1.2],"nice":false,"zero":false},"axis":null}}},
{"data":{"name":"c"},"transform":[{"filter":"datum.p==1"}],"mark":{"type":"line","clip":true,"strokeWidth":3},"encoding":{"x":{"field":"x","type":"quantitative","scale":{"domain":[-4.5,4.5],"reverse":true,"nice":false,"zero":false},"axis":{"values":[4,2,0,-2,-4],"title":null}},"y":{"field":"y","type":"quantitative","scale":{"domain":[-0.3,1.2],"nice":false,"zero":false},"axis":{"values":[0,0.5,1],"format":".1f","title":null}},"color":{"field":"b","type":"nominal","scale":{"domain":["B7","B6","B4","b7","b6","b4"],"range":["#1f6fef","#ffa500","#008000","#0000ff","#ffa500","#008000"]},"legend":null}}},
{"data":{"name":"m"},"transform":[{"filter":"datum.p==1"}],"mark":{"type":"rule","strokeWidth":4},"encoding":{"x":{"field":"x1","type":"quantitative","scale":{"domain":[-4.5,4.5],"reverse":true,"nice":false,"zero":false},"axis":{"orient":"top","values":[4,2,0,-2,-4],"labels":false,"title":null}},"x2":{"field":"x2"},"y":{"field":"y","type":"quantitative","scale":{"domain":[-0.3,1.2],"nice":false,"zero":false},"axis":{"orient":"right","values":[0,0.5,1],"labels":false,"title":null}},"color":{"field":"b","type":"nominal","scale":{"domain":["B7","B6","B4","b7","b6","b4"],"range":["#1f6fef","#ffa500","#008000","#0000ff","#ffa500","#008000"]},"legend":null}}},
{"data":{"name":"t"},"transform":[{"filter":"datum.p==1"}],"mark":{"type":"text","align":"left","baseline":"alphabetic","fontSize":19,"color":"#000"},"encoding":{"x":{"datum":3.95,"type":"quantitative","scale":{"domain":[-4.5,4.5],"reverse":true,"nice":false,"zero":false},"axis":null},"y":{"datum":1.0,"type":"quantitative","scale":{"domain":[-0.3,1.2],"nice":false,"zero":false},"axis":null},"text":{"field":"n"}}}
]},
{"width":272,"height":217,"resolve":{"axis":{"x":"independent","y":"independent"}},"layer":[
{"data":{"name":"c"},"transform":[{"filter":"datum.p==2&&datum.b=='B7'"}],"mark":{"type":"line","clip":true,"strokeJoin":"round","strokeWidth":5,"color":"#a7c1de"},"encoding":{"x":{"field":"x","type":"quantitative","scale":{"domain":[-2,2],"reverse":true,"nice":false,"zero":false},"axis":null},"y":{"field":"y","type":"quantitative","scale":{"domain":[-0.3,1.2],"nice":false,"zero":false},"axis":null}}},
{"data":{"name":"c"},"transform":[{"filter":"datum.p==2&&datum.b=='B4'"}],"mark":{"type":"line","clip":true,"strokeJoin":"round","strokeWidth":7,"color":"#b6f0b6","opacity":0.8},"encoding":{"x":{"field":"x","type":"quantitative","scale":{"domain":[-2,2],"reverse":true,"nice":false,"zero":false},"axis":null},"y":{"field":"y","type":"quantitative","scale":{"domain":[-0.3,1.2],"nice":false,"zero":false},"axis":null}}},
{"data":{"name":"c"},"transform":[{"filter":"datum.p==2"}],"mark":{"type":"line","clip":true,"strokeWidth":3},"encoding":{"x":{"field":"x","type":"quantitative","scale":{"domain":[-2,2],"reverse":true,"nice":false,"zero":false},"axis":{"values":[1,0,-1],"title":null}},"y":{"field":"y","type":"quantitative","scale":{"domain":[-0.3,1.2],"nice":false,"zero":false},"axis":{"values":[0,0.5,1],"labels":false,"title":null}},"color":{"field":"b","type":"nominal","scale":{"domain":["B7","B6","B4","b7","b6","b4"],"range":["#1f6fef","#ffa500","#008000","#0000ff","#ffa500","#008000"]},"legend":null}}},
{"data":{"name":"m"},"transform":[{"filter":"datum.p==2"}],"mark":{"type":"rule","strokeWidth":4},"encoding":{"x":{"field":"x1","type":"quantitative","scale":{"domain":[-2,2],"reverse":true,"nice":false,"zero":false},"axis":{"orient":"top","values":[1,0,-1],"labels":false,"title":null}},"x2":{"field":"x2"},"y":{"field":"y","type":"quantitative","scale":{"domain":[-0.3,1.2],"nice":false,"zero":false},"axis":{"orient":"right","values":[0,0.5,1],"labels":false,"title":null}},"color":{"field":"b","type":"nominal","scale":{"domain":["B7","B6","B4","b7","b6","b4"],"range":["#1f6fef","#ffa500","#008000","#0000ff","#ffa500","#008000"]},"legend":null}}},
{"data":{"name":"t"},"transform":[{"filter":"datum.p==2"}],"mark":{"type":"text","align":"left","baseline":"alphabetic","fontSize":19,"color":"#000"},"encoding":{"x":{"datum":1.78,"type":"quantitative","scale":{"domain":[-2,2],"reverse":true,"nice":false,"zero":false},"axis":null},"y":{"datum":1.0,"type":"quantitative","scale":{"domain":[-0.3,1.2],"nice":false,"zero":false},"axis":null},"text":{"field":"n"}}}
]},
{"width":272,"height":217,"resolve":{"axis":{"x":"independent","y":"independent"}},"layer":[
{"data":{"name":"c"},"transform":[{"filter":"datum.p==3&&datum.b=='B7'"}],"mark":{"type":"line","clip":true,"strokeJoin":"round","strokeWidth":4,"color":"#a7c1de"},"encoding":{"x":{"field":"x","type":"quantitative","scale":{"domain":[-4.5,4.5],"reverse":true,"nice":false,"zero":false},"axis":null},"y":{"field":"y","type":"quantitative","scale":{"domain":[-0.3,1.2],"nice":false,"zero":false},"axis":null}}},
{"data":{"name":"c"},"transform":[{"filter":"datum.p==3&&datum.b=='B4'"}],"mark":{"type":"line","clip":true,"strokeJoin":"round","strokeWidth":5,"color":"#b6f0b6","opacity":0.8},"encoding":{"x":{"field":"x","type":"quantitative","scale":{"domain":[-4.5,4.5],"reverse":true,"nice":false,"zero":false},"axis":null},"y":{"field":"y","type":"quantitative","scale":{"domain":[-0.3,1.2],"nice":false,"zero":false},"axis":null}}},
{"data":{"name":"c"},"transform":[{"filter":"datum.p==3"}],"mark":{"type":"line","clip":true,"strokeWidth":3},"encoding":{"x":{"field":"x","type":"quantitative","scale":{"domain":[-4.5,4.5],"reverse":true,"nice":false,"zero":false},"axis":{"values":[4,2,0,-2,-4],"title":null}},"y":{"field":"y","type":"quantitative","scale":{"domain":[-0.3,1.2],"nice":false,"zero":false},"axis":{"values":[0,0.5,1],"labels":false,"title":null}},"color":{"field":"b","type":"nominal","scale":{"domain":["B7","B6","B4","b7","b6","b4"],"range":["#1f6fef","#ffa500","#008000","#0000ff","#ffa500","#008000"]},"legend":null}}},
{"data":{"name":"m"},"transform":[{"filter":"datum.p==3"}],"mark":{"type":"rule","strokeWidth":4},"encoding":{"x":{"field":"x1","type":"quantitative","scale":{"domain":[-4.5,4.5],"reverse":true,"nice":false,"zero":false},"axis":{"orient":"top","values":[4,2,0,-2,-4],"labels":false,"title":null}},"x2":{"field":"x2"},"y":{"field":"y","type":"quantitative","scale":{"domain":[-0.3,1.2],"nice":false,"zero":false},"axis":{"orient":"right","values":[0,0.5,1],"labels":false,"title":null}},"color":{"field":"b","type":"nominal","scale":{"domain":["B7","B6","B4","b7","b6","b4"],"range":["#1f6fef","#ffa500","#008000","#0000ff","#ffa500","#008000"]},"legend":null}}},
{"data":{"name":"t"},"transform":[{"filter":"datum.p==3"}],"mark":{"type":"text","align":"left","baseline":"alphabetic","fontSize":19,"color":"#000"},"encoding":{"x":{"datum":3.95,"type":"quantitative","scale":{"domain":[-4.5,4.5],"reverse":true,"nice":false,"zero":false},"axis":null},"y":{"datum":1.0,"type":"quantitative","scale":{"domain":[-0.3,1.2],"nice":false,"zero":false},"axis":null},"text":{"field":"n"}}}
]},
{"width":272,"height":217,"resolve":{"axis":{"x":"independent","y":"independent"}},"layer":[
{"data":{"name":"c"},"transform":[{"filter":"datum.p==4&&datum.b=='B7'"}],"mark":{"type":"line","clip":true,"strokeJoin":"round","strokeWidth":5,"color":"#a7c1de"},"encoding":{"x":{"field":"x","type":"quantitative","scale":{"domain":[-2,2],"reverse":true,"nice":false,"zero":false},"axis":null},"y":{"field":"y","type":"quantitative","scale":{"domain":[-0.3,1.2],"nice":false,"zero":false},"axis":null}}},
{"data":{"name":"c"},"transform":[{"filter":"datum.p==4&&datum.b=='B4'"}],"mark":{"type":"line","clip":true,"strokeJoin":"round","strokeWidth":13,"color":"#b6f0b6","opacity":0.8},"encoding":{"x":{"field":"x","type":"quantitative","scale":{"domain":[-2,2],"reverse":true,"nice":false,"zero":false},"axis":null},"y":{"field":"y","type":"quantitative","scale":{"domain":[-0.3,1.2],"nice":false,"zero":false},"axis":null}}},
{"data":{"name":"c"},"transform":[{"filter":"datum.p==4"}],"mark":{"type":"line","clip":true,"strokeWidth":3},"encoding":{"x":{"field":"x","type":"quantitative","scale":{"domain":[-2,2],"reverse":true,"nice":false,"zero":false},"axis":{"values":[1,0,-1],"title":null}},"y":{"field":"y","type":"quantitative","scale":{"domain":[-0.3,1.2],"nice":false,"zero":false},"axis":{"values":[0,0.5,1],"labels":false,"title":null}},"color":{"field":"b","type":"nominal","scale":{"domain":["B7","B6","B4","b7","b6","b4"],"range":["#1f6fef","#ffa500","#008000","#0000ff","#ffa500","#008000"]},"legend":{"values":["B7","B6","B4"],"orient":"top-right","offset":8,"title":null,"symbolType":"stroke","symbolStrokeWidth":4,"symbolSize":780,"symbolOffset":7,"labelFontSize":19,"labelFont":"DejaVu Sans","labelColor":"#000","labelOffset":12,"strokeColor":"#000","fillColor":"#fff","cornerRadius":5,"padding":3,"rowPadding":-3}}}},
{"data":{"name":"m"},"transform":[{"filter":"datum.p==4"}],"mark":{"type":"rule","strokeWidth":4},"encoding":{"x":{"field":"x1","type":"quantitative","scale":{"domain":[-2,2],"reverse":true,"nice":false,"zero":false},"axis":{"orient":"top","values":[1,0,-1],"labels":false,"title":null}},"x2":{"field":"x2"},"y":{"field":"y","type":"quantitative","scale":{"domain":[-0.3,1.2],"nice":false,"zero":false},"axis":{"orient":"right","values":[0,0.5,1],"labels":false,"title":null}},"color":{"field":"b","type":"nominal","scale":{"domain":["B7","B6","B4","b7","b6","b4"],"range":["#1f6fef","#ffa500","#008000","#0000ff","#ffa500","#008000"]},"legend":null}}},
{"data":{"name":"t"},"transform":[{"filter":"datum.p==4"}],"mark":{"type":"text","align":"left","baseline":"alphabetic","fontSize":19,"color":"#000"},"encoding":{"x":{"datum":1.8,"type":"quantitative","scale":{"domain":[-2,2],"reverse":true,"nice":false,"zero":false},"axis":null},"y":{"datum":1.0,"type":"quantitative","scale":{"domain":[-0.3,1.2],"nice":false,"zero":false},"axis":null},"text":{"field":"n"}}}
]},
{"width":272,"height":217,"resolve":{"axis":{"x":"independent","y":"independent"}},"layer":[
{"data":{"name":"c"},"transform":[{"filter":"datum.p==5&&datum.b=='B7'"}],"mark":{"type":"line","clip":true,"strokeJoin":"round","strokeWidth":5,"color":"#a7c1de"},"encoding":{"x":{"field":"x","type":"quantitative","scale":{"domain":[-2,2],"reverse":true,"nice":false,"zero":false},"axis":null},"y":{"field":"y","type":"quantitative","scale":{"domain":[-0.3,1.2],"nice":false,"zero":false},"axis":null}}},
{"data":{"name":"c"},"transform":[{"filter":"datum.p==5&&datum.b=='B4'"}],"mark":{"type":"line","clip":true,"strokeJoin":"round","strokeWidth":9,"color":"#b6f0b6","opacity":0.8},"encoding":{"x":{"field":"x","type":"quantitative","scale":{"domain":[-2,2],"reverse":true,"nice":false,"zero":false},"axis":null},"y":{"field":"y","type":"quantitative","scale":{"domain":[-0.3,1.2],"nice":false,"zero":false},"axis":null}}},
{"data":{"name":"c"},"transform":[{"filter":"datum.p==5"}],"mark":{"type":"line","clip":true,"strokeWidth":3},"encoding":{"x":{"field":"x","type":"quantitative","scale":{"domain":[-2,2],"reverse":true,"nice":false,"zero":false},"axis":{"values":[1,0,-1],"title":null}},"y":{"field":"y","type":"quantitative","scale":{"domain":[-0.3,1.2],"nice":false,"zero":false},"axis":{"values":[0,0.5,1],"format":".1f","title":"Normalized intensity","titlePadding":8}},"color":{"field":"b","type":"nominal","scale":{"domain":["B7","B6","B4","b7","b6","b4"],"range":["#1f6fef","#ffa500","#008000","#0000ff","#ffa500","#008000"]},"legend":null}}},
{"data":{"name":"m"},"transform":[{"filter":"datum.p==5"}],"mark":{"type":"rule","strokeWidth":4},"encoding":{"x":{"field":"x1","type":"quantitative","scale":{"domain":[-2,2],"reverse":true,"nice":false,"zero":false},"axis":{"orient":"top","values":[1,0,-1],"labels":false,"title":null}},"x2":{"field":"x2"},"y":{"field":"y","type":"quantitative","scale":{"domain":[-0.3,1.2],"nice":false,"zero":false},"axis":{"orient":"right","values":[0,0.5,1],"labels":false,"title":null}},"color":{"field":"b","type":"nominal","scale":{"domain":["B7","B6","B4","b7","b6","b4"],"range":["#1f6fef","#ffa500","#008000","#0000ff","#ffa500","#008000"]},"legend":null}}},
{"data":{"name":"t"},"transform":[{"filter":"datum.p==5"}],"mark":{"type":"text","align":"left","baseline":"alphabetic","fontSize":19,"color":"#000"},"encoding":{"x":{"datum":1.78,"type":"quantitative","scale":{"domain":[-2,2],"reverse":true,"nice":false,"zero":false},"axis":null},"y":{"datum":1.0,"type":"quantitative","scale":{"domain":[-0.3,1.2],"nice":false,"zero":false},"axis":null},"text":{"field":"n"}}}
]},
{"width":272,"height":217,"resolve":{"axis":{"x":"independent","y":"independent"}},"layer":[
{"data":{"name":"c"},"transform":[{"filter":"datum.p==6&&datum.b=='B7'"}],"mark":{"type":"line","clip":true,"strokeJoin":"round","strokeWidth":8,"color":"#a7c1de"},"encoding":{"x":{"field":"x","type":"quantitative","scale":{"domain":[-2,2],"reverse":true,"nice":false,"zero":false},"axis":null},"y":{"field":"y","type":"quantitative","scale":{"domain":[-0.3,1.2],"nice":false,"zero":false},"axis":null}}},
{"data":{"name":"c"},"transform":[{"filter":"datum.p==6&&datum.b=='B4'"}],"mark":{"type":"line","clip":true,"strokeJoin":"round","strokeWidth":8,"color":"#b6f0b6","opacity":0.8},"encoding":{"x":{"field":"x","type":"quantitative","scale":{"domain":[-2,2],"reverse":true,"nice":false,"zero":false},"axis":null},"y":{"field":"y","type":"quantitative","scale":{"domain":[-0.3,1.2],"nice":false,"zero":false},"axis":null}}},
{"data":{"name":"c"},"transform":[{"filter":"datum.p==6"}],"mark":{"type":"line","clip":true,"strokeWidth":3},"encoding":{"x":{"field":"x","type":"quantitative","scale":{"domain":[-2,2],"reverse":true,"nice":false,"zero":false},"axis":{"values":[1,0,-1],"title":null}},"y":{"field":"y","type":"quantitative","scale":{"domain":[-0.3,1.2],"nice":false,"zero":false},"axis":{"values":[0,0.5,1],"labels":false,"title":null}},"color":{"field":"b","type":"nominal","scale":{"domain":["B7","B6","B4","b7","b6","b4"],"range":["#1f6fef","#ffa500","#008000","#0000ff","#ffa500","#008000"]},"legend":null}}},
{"data":{"name":"m"},"transform":[{"filter":"datum.p==6"}],"mark":{"type":"rule","strokeWidth":4},"encoding":{"x":{"field":"x1","type":"quantitative","scale":{"domain":[-2,2],"reverse":true,"nice":false,"zero":false},"axis":{"orient":"top","values":[1,0,-1],"labels":false,"title":null}},"x2":{"field":"x2"},"y":{"field":"y","type":"quantitative","scale":{"domain":[-0.3,1.2],"nice":false,"zero":false},"axis":{"orient":"right","values":[0,0.5,1],"labels":false,"title":null}},"color":{"field":"b","type":"nominal","scale":{"domain":["B7","B6","B4","b7","b6","b4"],"range":["#1f6fef","#ffa500","#008000","#0000ff","#ffa500","#008000"]},"legend":null}}},
{"data":{"name":"t"},"transform":[{"filter":"datum.p==6"}],"mark":{"type":"text","align":"left","baseline":"alphabetic","fontSize":19,"color":"#000"},"encoding":{"x":{"datum":1.78,"type":"quantitative","scale":{"domain":[-2,2],"reverse":true,"nice":false,"zero":false},"axis":null},"y":{"datum":1.0,"type":"quantitative","scale":{"domain":[-0.3,1.2],"nice":false,"zero":false},"axis":null},"text":{"field":"n"}}}
]},
{"width":272,"height":217,"resolve":{"axis":{"x":"independent","y":"independent"}},"layer":[
{"data":{"name":"c"},"transform":[{"filter":"datum.p==7&&datum.b=='B7'"}],"mark":{"type":"line","clip":true,"strokeJoin":"round","strokeWidth":4,"color":"#a7c1de"},"encoding":{"x":{"field":"x","type":"quantitative","scale":{"domain":[-2,2],"reverse":true,"nice":false,"zero":false},"axis":null},"y":{"field":"y","type":"quantitative","scale":{"domain":[-0.3,1.2],"nice":false,"zero":false},"axis":null}}},
{"data":{"name":"c"},"transform":[{"filter":"datum.p==7&&datum.b=='B4'"}],"mark":{"type":"line","clip":true,"strokeJoin":"round","strokeWidth":5,"color":"#b6f0b6","opacity":0.8},"encoding":{"x":{"field":"x","type":"quantitative","scale":{"domain":[-2,2],"reverse":true,"nice":false,"zero":false},"axis":null},"y":{"field":"y","type":"quantitative","scale":{"domain":[-0.3,1.2],"nice":false,"zero":false},"axis":null}}},
{"data":{"name":"c"},"transform":[{"filter":"datum.p==7"}],"mark":{"type":"line","clip":true,"strokeWidth":3},"encoding":{"x":{"field":"x","type":"quantitative","scale":{"domain":[-2,2],"reverse":true,"nice":false,"zero":false},"axis":{"values":[1,0,-1],"title":null}},"y":{"field":"y","type":"quantitative","scale":{"domain":[-0.3,1.2],"nice":false,"zero":false},"axis":{"values":[0,0.5,1],"labels":false,"title":null}},"color":{"field":"b","type":"nominal","scale":{"domain":["B7","B6","B4","b7","b6","b4"],"range":["#1f6fef","#ffa500","#008000","#0000ff","#ffa500","#008000"]},"legend":null}}},
{"data":{"name":"m"},"transform":[{"filter":"datum.p==7"}],"mark":{"type":"rule","strokeWidth":4},"encoding":{"x":{"field":"x1","type":"quantitative","scale":{"domain":[-2,2],"reverse":true,"nice":false,"zero":false},"axis":{"orient":"top","values":[1,0,-1],"labels":false,"title":null}},"x2":{"field":"x2"},"y":{"field":"y","type":"quantitative","scale":{"domain":[-0.3,1.2],"nice":false,"zero":false},"axis":{"orient":"right","values":[0,0.5,1],"labels":false,"title":null}},"color":{"field":"b","type":"nominal","scale":{"domain":["B7","B6","B4","b7","b6","b4"],"range":["#1f6fef","#ffa500","#008000","#0000ff","#ffa500","#008000"]},"legend":null}}},
{"data":{"name":"a"},"transform":[{"filter":"datum.p==7"}],"mark":{"type":"rule","strokeWidth":1.5},"encoding":{"x":{"field":"x","type":"quantitative","scale":{"domain":[-2,2],"reverse":true,"nice":false,"zero":false},"axis":null},"y":{"field":"y","type":"quantitative","scale":{"domain":[-0.3,1.2],"nice":false,"zero":false},"axis":null},"y2":{"field":"y2"},"color":{"field":"b","type":"nominal","scale":{"domain":["B7","B6","B4","b7","b6","b4"],"range":["#1f6fef","#ffa500","#008000","#0000ff","#ffa500","#008000"]},"legend":null}}},
{"data":{"name":"a"},"transform":[{"filter":"datum.p==7"}],"mark":{"type":"point","shape":"triangle-down","filled":true,"size":40,"opacity":1},"encoding":{"x":{"field":"x","type":"quantitative","scale":{"domain":[-2,2],"reverse":true,"nice":false,"zero":false},"axis":null},"y":{"field":"y2","type":"quantitative","scale":{"domain":[-0.3,1.2],"nice":false,"zero":false},"axis":null},"color":{"field":"b","type":"nominal","scale":{"domain":["B7","B6","B4","b7","b6","b4"],"range":["#1f6fef","#ffa500","#008000","#0000ff","#ffa500","#008000"]},"legend":null}}},
{"data":{"name":"t"},"transform":[{"filter":"datum.p==7"}],"mark":{"type":"text","align":"left","baseline":"alphabetic","fontSize":19,"color":"#000"},"encoding":{"x":{"datum":1.78,"type":"quantitative","scale":{"domain":[-2,2],"reverse":true,"nice":false,"zero":false},"axis":null},"y":{"datum":1.0,"type":"quantitative","scale":{"domain":[-0.3,1.2],"nice":false,"zero":false},"axis":null},"text":{"field":"n"}}}
]},
{"width":272,"height":217,"resolve":{"axis":{"x":"independent","y":"independent"}},"layer":[
{"data":{"name":"c"},"transform":[{"filter":"datum.p==8&&datum.b=='B7'"}],"mark":{"type":"line","clip":true,"strokeJoin":"round","strokeWidth":5,"color":"#a7c1de"},"encoding":{"x":{"field":"x","type":"quantitative","scale":{"domain":[-4.5,4.5],"reverse":true,"nice":false,"zero":false},"axis":null},"y":{"field":"y","type":"quantitative","scale":{"domain":[-0.3,1.2],"nice":false,"zero":false},"axis":null}}},
{"data":{"name":"c"},"transform":[{"filter":"datum.p==8"}],"mark":{"type":"line","clip":true,"strokeWidth":3},"encoding":{"x":{"field":"x","type":"quantitative","scale":{"domain":[-4.5,4.5],"reverse":true,"nice":false,"zero":false},"axis":{"values":[4,2,0,-2,-4],"title":null}},"y":{"field":"y","type":"quantitative","scale":{"domain":[-0.3,1.2],"nice":false,"zero":false},"axis":{"values":[0,0.5,1],"labels":false,"title":null}},"color":{"field":"b","type":"nominal","scale":{"domain":["B7","B6","B4","b7","b6","b4"],"range":["#1f6fef","#ffa500","#008000","#0000ff","#ffa500","#008000"]},"legend":null}}},
{"data":{"name":"m"},"transform":[{"filter":"datum.p==8"}],"mark":{"type":"rule","strokeWidth":4},"encoding":{"x":{"field":"x1","type":"quantitative","scale":{"domain":[-4.5,4.5],"reverse":true,"nice":false,"zero":false},"axis":{"orient":"top","values":[4,2,0,-2,-4],"labels":false,"title":null}},"x2":{"field":"x2"},"y":{"field":"y","type":"quantitative","scale":{"domain":[-0.3,1.2],"nice":false,"zero":false},"axis":{"orient":"right","values":[0,0.5,1],"labels":false,"title":null}},"color":{"field":"b","type":"nominal","scale":{"domain":["B7","B6","B4","b7","b6","b4"],"range":["#1f6fef","#ffa500","#008000","#0000ff","#ffa500","#008000"]},"legend":null}}},
{"data":{"name":"t"},"transform":[{"filter":"datum.p==8"}],"mark":{"type":"text","align":"left","baseline":"alphabetic","fontSize":19,"color":"#000"},"encoding":{"x":{"datum":3.95,"type":"quantitative","scale":{"domain":[-4.5,4.5],"reverse":true,"nice":false,"zero":false},"axis":null},"y":{"datum":1.0,"type":"quantitative","scale":{"domain":[-0.3,1.2],"nice":false,"zero":false},"axis":null},"text":{"field":"n"}}}
]},
{"width":272,"height":217,"resolve":{"axis":{"x":"independent","y":"independent"}},"layer":[
{"data":{"name":"c"},"transform":[{"filter":"datum.p==9"}],"mark":{"type":"line","clip":true,"strokeWidth":3},"encoding":{"x":{"field":"x","type":"quantitative","scale":{"domain":[-2,2],"reverse":true,"nice":false,"zero":false},"axis":{"values":[1,0,-1],"title":"Offset (arcsec)"}},"y":{"field":"y","type":"quantitative","scale":{"domain":[-0.3,1.2],"nice":false,"zero":false},"axis":{"values":[0,0.5,1],"format":".1f","title":null}},"color":{"field":"b","type":"nominal","scale":{"domain":["B7","B6","B4","b7","b6","b4"],"range":["#1f6fef","#ffa500","#008000","#0000ff","#ffa500","#008000"]},"legend":null}}},
{"data":{"name":"m"},"transform":[{"filter":"datum.p==9"}],"mark":{"type":"rule","strokeWidth":4},"encoding":{"x":{"field":"x1","type":"quantitative","scale":{"domain":[-2,2],"reverse":true,"nice":false,"zero":false},"axis":{"orient":"top","values":[1,0,-1],"labels":false,"title":null}},"x2":{"field":"x2"},"y":{"field":"y","type":"quantitative","scale":{"domain":[-0.3,1.2],"nice":false,"zero":false},"axis":{"orient":"right","values":[0,0.5,1],"labels":false,"title":null}},"color":{"field":"b","type":"nominal","scale":{"domain":["B7","B6","B4","b7","b6","b4"],"range":["#1f6fef","#ffa500","#008000","#0000ff","#ffa500","#008000"]},"legend":null}}},
{"data":{"name":"a"},"transform":[{"filter":"datum.p==9"}],"mark":{"type":"rule","strokeWidth":1.5},"encoding":{"x":{"field":"x","type":"quantitative","scale":{"domain":[-2,2],"reverse":true,"nice":false,"zero":false},"axis":null},"y":{"field":"y","type":"quantitative","scale":{"domain":[-0.3,1.2],"nice":false,"zero":false},"axis":null},"y2":{"field":"y2"},"color":{"field":"b","type":"nominal","scale":{"domain":["B7","B6","B4","b7","b6","b4"],"range":["#1f6fef","#ffa500","#008000","#0000ff","#ffa500","#008000"]},"legend":null}}},
{"data":{"name":"a"},"transform":[{"filter":"datum.p==9"}],"mark":{"type":"point","shape":"triangle-down","filled":true,"size":40,"opacity":1},"encoding":{"x":{"field":"x","type":"quantitative","scale":{"domain":[-2,2],"reverse":true,"nice":false,"zero":false},"axis":null},"y":{"field":"y2","type":"quantitative","scale":{"domain":[-0.3,1.2],"nice":false,"zero":false},"axis":null},"color":{"field":"b","type":"nominal","scale":{"domain":["B7","B6","B4","b7","b6","b4"],"range":["#1f6fef","#ffa500","#008000","#0000ff","#ffa500","#008000"]},"legend":null}}},
{"data":{"name":"t"},"transform":[{"filter":"datum.p==9"}],"mark":{"type":"text","align":"left","baseline":"alphabetic","fontSize":19,"color":"#000"},"encoding":{"x":{"datum":1.78,"type":"quantitative","scale":{"domain":[-2,2],"reverse":true,"nice":false,"zero":false},"axis":null},"y":{"datum":1.0,"type":"quantitative","scale":{"domain":[-0.3,1.2],"nice":false,"zero":false},"axis":null},"text":{"field":"n"}}}
]},
{"width":272,"height":217,"resolve":{"axis":{"x":"independent","y":"independent"}},"layer":[
{"data":{"name":"c"},"transform":[{"filter":"datum.p==10"}],"mark":{"type":"line","clip":true,"strokeWidth":3},"encoding":{"x":{"field":"x","type":"quantitative","scale":{"domain":[-2,2],"reverse":true,"nice":false,"zero":false},"axis":{"values":[1,0,-1],"title":"Offset (arcsec)"}},"y":{"field":"y","type":"quantitative","scale":{"domain":[-0.3,1.2],"nice":false,"zero":false},"axis":{"values":[0,0.5,1],"labels":false,"title":null}},"color":{"field":"b","type":"nominal","scale":{"domain":["B7","B6","B4","b7","b6","b4"],"range":["#1f6fef","#ffa500","#008000","#0000ff","#ffa500","#008000"]},"legend":null}}},
{"data":{"name":"m"},"transform":[{"filter":"datum.p==10"}],"mark":{"type":"rule","strokeWidth":4},"encoding":{"x":{"field":"x1","type":"quantitative","scale":{"domain":[-2,2],"reverse":true,"nice":false,"zero":false},"axis":{"orient":"top","values":[1,0,-1],"labels":false,"title":null}},"x2":{"field":"x2"},"y":{"field":"y","type":"quantitative","scale":{"domain":[-0.3,1.2],"nice":false,"zero":false},"axis":{"orient":"right","values":[0,0.5,1],"labels":false,"title":null}},"color":{"field":"b","type":"nominal","scale":{"domain":["B7","B6","B4","b7","b6","b4"],"range":["#1f6fef","#ffa500","#008000","#0000ff","#ffa500","#008000"]},"legend":null}}},
{"data":{"name":"t"},"transform":[{"filter":"datum.p==10"}],"mark":{"type":"text","align":"left","baseline":"alphabetic","fontSize":19,"color":"#000"},"encoding":{"x":{"datum":1.78,"type":"quantitative","scale":{"domain":[-2,2],"reverse":true,"nice":false,"zero":false},"axis":null},"y":{"datum":1.0,"type":"quantitative","scale":{"domain":[-0.3,1.2],"nice":false,"zero":false},"axis":null},"text":{"field":"n"}}}
]},
{"width":272,"height":217,"resolve":{"axis":{"x":"independent","y":"independent"}},"layer":[
{"data":{"name":"c"},"transform":[{"filter":"datum.p==11&&datum.b=='B7'"}],"mark":{"type":"line","clip":true,"strokeJoin":"round","strokeWidth":9,"color":"#a7c1de"},"encoding":{"x":{"field":"x","type":"quantitative","scale":{"domain":[-2,2],"reverse":true,"nice":false,"zero":false},"axis":null},"y":{"field":"y","type":"quantitative","scale":{"domain":[-0.3,1.2],"nice":false,"zero":false},"axis":null}}},
{"data":{"name":"c"},"transform":[{"filter":"datum.p==11"}],"mark":{"type":"line","clip":true,"strokeWidth":3},"encoding":{"x":{"field":"x","type":"quantitative","scale":{"domain":[-2,2],"reverse":true,"nice":false,"zero":false},"axis":{"values":[1,0,-1],"title":"Offset (arcsec)"}},"y":{"field":"y","type":"quantitative","scale":{"domain":[-0.3,1.2],"nice":false,"zero":false},"axis":{"values":[0,0.5,1],"labels":false,"title":null}},"color":{"field":"b","type":"nominal","scale":{"domain":["B7","B6","B4","b7","b6","b4"],"range":["#1f6fef","#ffa500","#008000","#0000ff","#ffa500","#008000"]},"legend":null}}},
{"data":{"name":"m"},"transform":[{"filter":"datum.p==11"}],"mark":{"type":"rule","strokeWidth":4},"encoding":{"x":{"field":"x1","type":"quantitative","scale":{"domain":[-2,2],"reverse":true,"nice":false,"zero":false},"axis":{"orient":"top","values":[1,0,-1],"labels":false,"title":null}},"x2":{"field":"x2"},"y":{"field":"y","type":"quantitative","scale":{"domain":[-0.3,1.2],"nice":false,"zero":false},"axis":{"orient":"right","values":[0,0.5,1],"labels":false,"title":null}},"color":{"field":"b","type":"nominal","scale":{"domain":["B7","B6","B4","b7","b6","b4"],"range":["#1f6fef","#ffa500","#008000","#0000ff","#ffa500","#008000"]},"legend":null}}},
{"data":{"name":"t"},"transform":[{"filter":"datum.p==11"}],"mark":{"type":"text","align":"left","baseline":"alphabetic","fontSize":19,"color":"#000"},"encoding":{"x":{"datum":1.78,"type":"quantitative","scale":{"domain":[-2,2],"reverse":true,"nice":false,"zero":false},"axis":null},"y":{"datum":1.0,"type":"quantitative","scale":{"domain":[-0.3,1.2],"nice":false,"zero":false},"axis":null},"text":{"field":"n"}}}
]},
{"width":272,"height":217,"resolve":{"axis":{"x":"independent","y":"independent"}},"layer":[
{"data":{"name":"c"},"transform":[{"filter":"datum.p==12&&datum.b=='B7'"}],"mark":{"type":"line","clip":true,"strokeJoin":"round","strokeWidth":9,"color":"#a7c1de"},"encoding":{"x":{"field":"x","type":"quantitative","scale":{"domain":[-2,2],"reverse":true,"nice":false,"zero":false},"axis":null},"y":{"field":"y","type":"quantitative","scale":{"domain":[-0.3,1.2],"nice":false,"zero":false},"axis":null}}},
{"data":{"name":"c"},"transform":[{"filter":"datum.p==12"}],"mark":{"type":"line","clip":true,"strokeWidth":3},"encoding":{"x":{"field":"x","type":"quantitative","scale":{"domain":[-2,2],"reverse":true,"nice":false,"zero":false},"axis":{"values":[1,0,-1],"title":"Offset (arcsec)"}},"y":{"field":"y","type":"quantitative","scale":{"domain":[-0.3,1.2],"nice":false,"zero":false},"axis":{"values":[0,0.5,1],"labels":false,"title":null}},"color":{"field":"b","type":"nominal","scale":{"domain":["B7","B6","B4","b7","b6","b4"],"range":["#1f6fef","#ffa500","#008000","#0000ff","#ffa500","#008000"]},"legend":null}}},
{"data":{"name":"m"},"transform":[{"filter":"datum.p==12"}],"mark":{"type":"rule","strokeWidth":4},"encoding":{"x":{"field":"x1","type":"quantitative","scale":{"domain":[-2,2],"reverse":true,"nice":false,"zero":false},"axis":{"orient":"top","values":[1,0,-1],"labels":false,"title":null}},"x2":{"field":"x2"},"y":{"field":"y","type":"quantitative","scale":{"domain":[-0.3,1.2],"nice":false,"zero":false},"axis":{"orient":"right","values":[0,0.5,1],"labels":false,"title":null}},"color":{"field":"b","type":"nominal","scale":{"domain":["B7","B6","B4","b7","b6","b4"],"range":["#1f6fef","#ffa500","#008000","#0000ff","#ffa500","#008000"]},"legend":null}}},
{"data":{"name":"t"},"transform":[{"filter":"datum.p==12"}],"mark":{"type":"text","align":"left","baseline":"alphabetic","fontSize":19,"color":"#000"},"encoding":{"x":{"datum":1.78,"type":"quantitative","scale":{"domain":[-2,2],"reverse":true,"nice":false,"zero":false},"axis":null},"y":{"datum":1.0,"type":"quantitative","scale":{"domain":[-0.3,1.2],"nice":false,"zero":false},"axis":null},"text":{"field":"n"}}}
]}
],
"resolve":{"legend":{"color":"independent"}},
"config":{
"font":"DejaVu Sans",
"view":{"stroke":"#000","strokeWidth":1.2},
"axis":{"domain":false,"grid":false,"ticks":true,"tickSize":-6,"tickColor":"#000","tickWidth":1,"labelFont":"DejaVu Sans","labelFontSize":19,"labelColor":"#000","labelFlush":false,"titleFont":"DejaVu Sans","titleFontSize":20,"titleFontWeight":"normal","titleColor":"#000"},
"axisX":{"labelPadding":11,"titlePadding":1},
"axisY":{"labelPadding":8}
}
}
